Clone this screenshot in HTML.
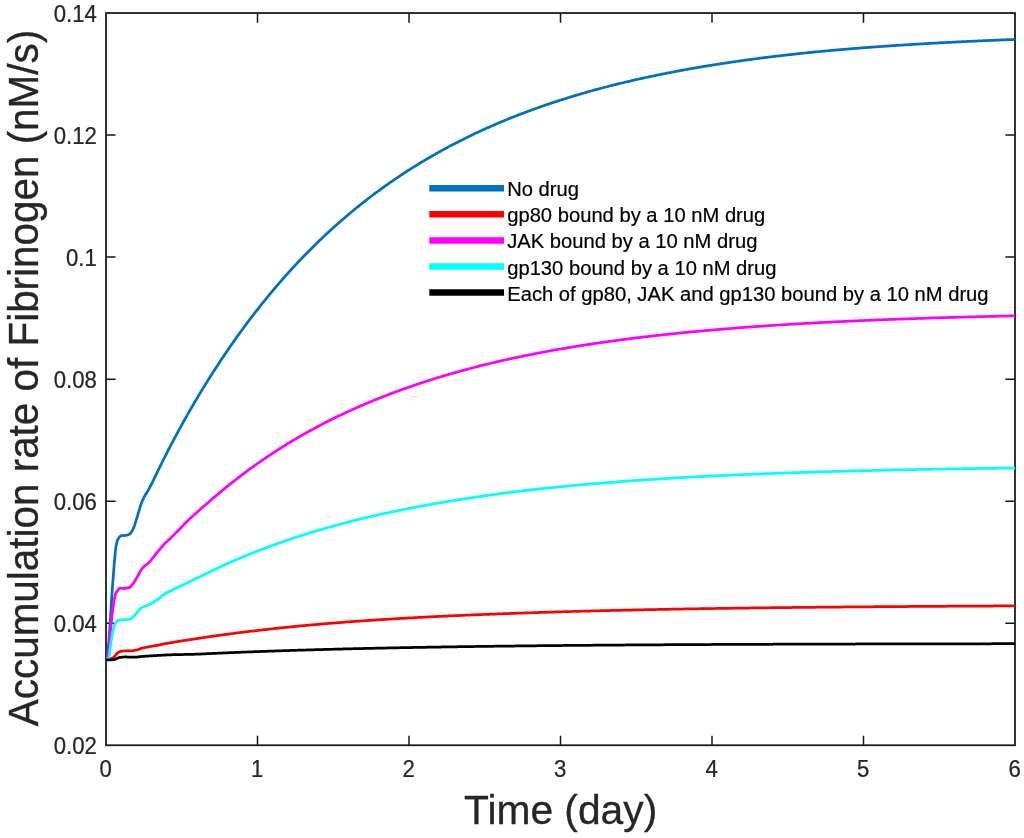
<!DOCTYPE html>
<html><head><meta charset="utf-8"><title>Accumulation rate of Fibrinogen</title>
<style>
html,body{margin:0;padding:0;background:#fff;}
body{width:1024px;height:838px;overflow:hidden;}
svg{display:block;}
text{font-family:"Liberation Sans",Arial,Helvetica,sans-serif;fill:#262626;}
.tk{font-size:23.2px;stroke:#262626;stroke-width:0.25px;}
.lg{font-size:19.95px;fill:#000;stroke:#000;stroke-width:0.2px;}
.lb{font-size:40.43px;stroke:#262626;stroke-width:0.3px;}
.c{fill:none;stroke-width:2.75;stroke-linejoin:round;stroke-linecap:butt;}
.ll{stroke-width:6.5;fill:none;}
</style></head><body>
<svg width="1024" height="838" viewBox="0 0 1024 838">
<rect x="0" y="0" width="1024" height="838" fill="#fff"/>

<path d="M257.50,745.25 v-9.6 M257.50,13.05 v9.6 M409.00,745.25 v-9.6 M409.00,13.05 v9.6 M560.50,745.25 v-9.6 M560.50,13.05 v9.6 M712.00,745.25 v-9.6 M712.00,13.05 v9.6 M863.50,745.25 v-9.6 M863.50,13.05 v9.6 M106.0,623.22 h9.6 M1015.0,623.22 h-9.6 M106.0,501.18 h9.6 M1015.0,501.18 h-9.6 M106.0,379.15 h9.6 M1015.0,379.15 h-9.6 M106.0,257.12 h9.6 M1015.0,257.12 h-9.6 M106.0,135.08 h9.6 M1015.0,135.08 h-9.6" stroke="#151515" stroke-width="1.5" fill="none"/>
<rect x="106.0" y="13.05" width="909.0" height="732.2" fill="none" stroke="#1c1c1c" stroke-width="1.8"/>
<clipPath id="cp"><rect x="106.0" y="13.05" width="909.0" height="732.2"/></clipPath>
<g clip-path="url(#cp)">
<path class="c" stroke="#0072BD" d="M106.00,659.60 L106.50,659.33 L107.00,658.20 L107.50,655.48 L108.00,650.72 L108.50,645.26 L109.00,639.61 L109.50,632.94 L110.00,625.67 L110.50,617.95 L111.00,609.25 L111.50,600.59 L112.00,593.05 L112.50,586.42 L113.00,580.14 L113.50,573.74 L114.00,566.90 L114.50,560.60 L115.00,555.03 L115.50,550.11 L116.00,546.76 L116.50,544.10 L117.00,541.84 L117.50,540.17 L118.00,539.09 L118.50,538.26 L119.00,537.62 L119.50,537.08 L120.00,536.56 L120.50,536.10 L121.00,535.80 L121.50,535.64 L122.00,535.57 L122.50,535.56 L123.00,535.57 L123.50,535.57 L124.00,535.51 L124.50,535.43 L125.00,535.38 L125.50,535.35 L126.00,535.32 L126.50,535.27 L127.00,535.19 L127.50,535.05 L128.00,534.84 L128.50,534.59 L129.00,534.36 L129.50,534.10 L130.00,533.76 L130.50,533.29 L131.00,532.65 L131.50,531.87 L132.00,531.05 L132.50,530.19 L133.00,529.26 L133.50,528.22 L134.00,527.02 L134.50,525.61 L135.00,524.05 L135.50,522.43 L136.00,520.82 L136.50,519.22 L137.00,517.55 L137.50,515.84 L138.00,514.11 L138.50,512.42 L139.00,510.78 L139.50,509.17 L140.00,507.52 L140.50,505.88 L141.00,504.31 L141.50,502.87 L142.00,501.62 L142.50,500.54 L143.00,499.50 L143.50,498.47 L144.00,497.47 L144.50,496.48 L145.00,495.49 L145.50,494.56 L146.00,493.72 L146.50,492.94 L147.00,492.18 L147.50,491.39 L148.00,490.52 L148.50,489.63 L149.00,488.74 L149.50,487.84 L150.00,486.94 L150.50,486.02 L151.00,485.07 L151.50,484.09 L152.00,483.08 L152.50,482.05 L153.00,481.01 L153.50,479.98 L154.00,478.94 L154.50,477.91 L155.00,476.87 L155.50,475.83 L156.00,474.80 L156.50,473.76 L157.00,472.73 L157.50,471.70 L158.00,470.67 L158.50,469.64 L159.00,468.61 L159.50,467.58 L160.00,466.56 L160.50,465.54 L161.00,464.52 L161.50,463.51 L162.00,462.50 L162.50,461.49 L163.00,460.49 L163.50,459.49 L164.00,458.50 L164.50,457.51 L165.00,456.53 L165.50,455.55 L166.00,454.57 L166.50,453.60 L167.00,452.62 L167.50,451.65 L168.00,450.69 L168.50,449.72 L169.00,448.76 L169.50,447.80 L170.00,446.84 L170.50,445.88 L171.00,444.93 L171.50,443.98 L172.00,443.03 L172.50,442.08 L173.00,441.13 L173.50,440.19 L174.00,439.25 L174.50,438.31 L175.00,437.37 L175.50,436.44 L176.00,435.51 L176.50,434.58 L177.00,433.65 L177.50,432.73 L178.00,431.80 L178.50,430.88 L179.00,429.96 L179.50,429.05 L180.00,428.13 L180.50,427.22 L181.00,426.31 L181.50,425.40 L182.00,424.50 L182.50,423.59 L183.00,422.69 L183.50,421.79 L184.00,420.90 L184.50,420.00 L185.00,419.11 L185.50,418.22 L186.00,417.33 L186.50,416.44 L187.00,415.56 L187.50,414.68 L188.00,413.80 L188.50,412.92 L189.00,412.04 L189.50,411.17 L190.00,410.30 L190.50,409.43 L191.00,408.56 L191.50,407.70 L192.00,406.83 L192.50,405.97 L193.00,405.11 L193.50,404.26 L194.00,403.40 L194.50,402.55 L195.00,401.70 L195.50,400.85 L196.00,400.00 L196.50,399.16 L197.00,398.32 L197.50,397.48 L198.00,396.64 L198.50,395.80 L199.00,394.97 L199.50,394.14 L200.00,393.31 L200.50,392.48 L201.00,391.65 L201.50,390.83 L202.00,390.01 L202.50,389.18 L203.00,388.37 L203.50,387.55 L204.00,386.73 L204.50,385.92 L205.00,385.11 L205.50,384.30 L206.00,383.49 L206.50,382.69 L207.00,381.88 L207.50,381.08 L208.00,380.28 L208.50,379.48 L209.00,378.69 L209.50,377.89 L210.00,377.10 L210.50,376.31 L211.00,375.52 L211.50,374.73 L212.00,373.95 L212.50,373.16 L213.00,372.38 L213.50,371.60 L214.00,370.82 L214.50,370.04 L215.00,369.27 L215.50,368.50 L216.00,367.72 L216.50,366.95 L217.00,366.19 L217.50,365.42 L218.00,364.66 L218.50,363.89 L219.00,363.13 L219.50,362.37 L220.00,361.61 L221.00,360.10 L222.00,358.60 L223.00,357.11 L224.00,355.62 L225.00,354.13 L226.00,352.66 L227.00,351.19 L228.00,349.73 L229.00,348.27 L230.00,346.82 L231.00,345.38 L232.00,343.94 L233.00,342.51 L234.00,341.09 L235.00,339.67 L236.00,338.26 L237.00,336.86 L238.00,335.46 L239.00,334.07 L240.00,332.69 L241.00,331.31 L242.00,329.94 L243.00,328.57 L244.00,327.21 L245.00,325.86 L246.00,324.51 L247.00,323.17 L248.00,321.84 L249.00,320.51 L250.00,319.19 L251.00,317.87 L252.00,316.56 L253.00,315.25 L254.00,313.95 L255.00,312.66 L256.00,311.37 L257.00,310.09 L258.00,308.82 L259.00,307.55 L260.00,306.28 L261.00,305.03 L262.00,303.77 L263.00,302.53 L264.00,301.29 L265.00,300.05 L266.00,298.82 L267.00,297.60 L268.00,296.38 L269.00,295.17 L270.00,293.96 L271.00,292.76 L272.00,291.56 L273.00,290.37 L274.00,289.19 L275.00,288.01 L276.00,286.83 L277.00,285.66 L278.00,284.50 L279.00,283.34 L280.00,282.18 L281.00,281.04 L282.00,279.89 L283.00,278.76 L284.00,277.62 L285.00,276.50 L286.00,275.37 L287.00,274.26 L288.00,273.14 L289.00,272.04 L290.00,270.94 L291.00,269.84 L292.00,268.75 L293.00,267.66 L294.00,266.58 L295.00,265.50 L296.00,264.43 L297.00,263.36 L298.00,262.30 L299.00,261.24 L300.00,260.19 L301.00,259.14 L302.00,258.10 L303.00,257.06 L304.00,256.02 L305.00,254.99 L306.00,253.97 L307.00,252.95 L308.00,251.94 L309.00,250.93 L310.00,249.92 L311.00,248.92 L312.00,247.92 L313.00,246.93 L314.00,245.94 L315.00,244.96 L316.00,243.98 L317.00,243.01 L318.00,242.04 L319.00,241.07 L320.00,240.11 L321.00,239.15 L322.00,238.20 L323.00,237.25 L324.00,236.31 L325.00,235.37 L326.00,234.43 L327.00,233.50 L328.00,232.58 L329.00,231.65 L330.00,230.74 L331.00,229.82 L332.00,228.91 L333.00,228.01 L334.00,227.11 L335.00,226.21 L336.00,225.31 L337.00,224.43 L338.00,223.54 L339.00,222.66 L340.00,221.78 L341.00,220.91 L342.00,220.04 L343.00,219.17 L344.00,218.31 L345.00,217.46 L346.00,216.60 L347.00,215.75 L348.00,214.91 L349.00,214.07 L350.00,213.23 L351.00,212.39 L352.00,211.56 L353.00,210.74 L354.00,209.91 L355.00,209.09 L356.00,208.28 L357.00,207.47 L358.00,206.66 L359.00,205.85 L360.00,205.05 L361.00,204.26 L362.00,203.46 L363.00,202.67 L364.00,201.89 L365.00,201.11 L366.00,200.33 L367.00,199.55 L368.00,198.78 L369.00,198.01 L370.00,197.25 L371.00,196.48 L372.00,195.73 L373.00,194.97 L374.00,194.22 L375.00,193.47 L376.00,192.73 L377.00,191.99 L378.00,191.25 L379.00,190.52 L380.00,189.79 L381.00,189.06 L382.00,188.33 L383.00,187.61 L384.00,186.90 L385.00,186.18 L386.00,185.47 L387.00,184.76 L388.00,184.06 L389.00,183.36 L390.00,182.66 L391.00,181.96 L392.00,181.27 L393.00,180.58 L394.00,179.90 L395.00,179.21 L396.00,178.54 L397.00,177.86 L398.00,177.19 L399.00,176.52 L400.00,175.85 L401.00,175.18 L402.00,174.52 L403.00,173.87 L404.00,173.21 L405.00,172.56 L406.00,171.91 L407.00,171.26 L408.00,170.62 L409.00,169.98 L410.00,169.34 L411.00,168.71 L412.00,168.08 L413.00,167.45 L414.00,166.82 L415.00,166.20 L416.00,165.58 L417.00,164.96 L418.00,164.35 L419.00,163.74 L420.00,163.13 L421.00,162.52 L422.00,161.92 L423.00,161.32 L424.00,160.72 L425.00,160.12 L426.00,159.53 L427.00,158.94 L428.00,158.36 L429.00,157.77 L430.00,157.19 L431.00,156.61 L432.00,156.03 L433.00,155.46 L434.00,154.89 L435.00,154.32 L436.00,153.75 L437.00,153.19 L438.00,152.63 L439.00,152.07 L440.00,151.52 L441.00,150.96 L442.00,150.41 L443.00,149.86 L444.00,149.32 L445.00,148.78 L446.00,148.23 L447.00,147.70 L448.00,147.16 L449.00,146.63 L450.00,146.10 L451.00,145.57 L452.00,145.04 L453.00,144.52 L454.00,144.00 L455.00,143.48 L456.00,142.96 L457.00,142.45 L458.00,141.94 L459.00,141.43 L460.00,140.92 L461.00,140.41 L462.00,139.91 L463.00,139.41 L464.00,138.91 L465.00,138.42 L466.00,137.92 L467.00,137.43 L468.00,136.94 L469.00,136.46 L470.00,135.97 L471.00,135.49 L472.00,135.01 L473.00,134.53 L474.00,134.05 L475.00,133.58 L476.00,133.11 L477.00,132.64 L478.00,132.17 L479.00,131.71 L480.00,131.24 L481.00,130.78 L482.00,130.32 L483.00,129.87 L484.00,129.41 L485.00,128.96 L486.00,128.51 L487.00,128.06 L488.00,127.62 L489.00,127.17 L490.00,126.73 L491.00,126.29 L492.00,125.85 L493.00,125.41 L494.00,124.98 L495.00,124.55 L496.00,124.12 L497.00,123.69 L498.00,123.26 L499.00,122.84 L500.00,122.41 L501.00,121.99 L502.00,121.58 L503.00,121.16 L504.00,120.74 L505.00,120.33 L506.00,119.92 L507.00,119.51 L508.00,119.10 L509.00,118.70 L510.00,118.29 L511.00,117.89 L512.00,117.49 L513.00,117.09 L514.00,116.70 L515.00,116.30 L516.00,115.91 L517.00,115.52 L518.00,115.13 L519.00,114.74 L520.00,114.36 L521.00,113.97 L522.00,113.59 L523.00,113.21 L524.00,112.83 L525.00,112.45 L526.00,112.08 L527.00,111.70 L528.00,111.33 L529.00,110.96 L530.00,110.59 L531.00,110.23 L532.00,109.86 L533.00,109.50 L534.00,109.14 L535.00,108.78 L536.00,108.42 L537.00,108.06 L538.00,107.70 L539.00,107.35 L540.00,107.00 L541.00,106.65 L542.00,106.30 L543.00,105.95 L544.00,105.61 L545.00,105.26 L546.00,104.92 L547.00,104.58 L548.00,104.24 L549.00,103.90 L550.00,103.57 L551.00,103.23 L552.00,102.90 L553.00,102.57 L554.00,102.23 L555.00,101.91 L556.00,101.58 L557.00,101.25 L558.00,100.93 L559.00,100.61 L560.00,100.28 L561.00,99.96 L562.00,99.65 L563.00,99.33 L564.00,99.01 L565.00,98.70 L566.00,98.39 L567.00,98.08 L568.00,97.77 L569.00,97.46 L570.00,97.15 L571.00,96.84 L572.00,96.54 L573.00,96.24 L574.00,95.94 L575.00,95.64 L576.00,95.34 L577.00,95.04 L578.00,94.74 L579.00,94.45 L580.00,94.16 L581.00,93.86 L582.00,93.57 L583.00,93.28 L584.00,93.00 L585.00,92.71 L586.00,92.42 L587.00,92.14 L588.00,91.86 L589.00,91.57 L590.00,91.29 L591.00,91.02 L592.00,90.74 L593.00,90.46 L594.00,90.19 L595.00,89.91 L596.00,89.64 L597.00,89.37 L598.00,89.10 L599.00,88.83 L600.00,88.56 L601.00,88.29 L602.00,88.03 L603.00,87.77 L604.00,87.50 L605.00,87.24 L606.00,86.98 L607.00,86.72 L608.00,86.46 L609.00,86.21 L610.00,85.95 L611.00,85.70 L612.00,85.44 L613.00,85.19 L614.00,84.94 L615.00,84.69 L616.00,84.44 L617.00,84.19 L618.00,83.95 L619.00,83.70 L620.00,83.46 L621.00,83.21 L622.00,82.97 L623.00,82.73 L624.00,82.49 L625.00,82.25 L626.00,82.01 L627.00,81.78 L628.00,81.54 L629.00,81.31 L630.00,81.07 L631.00,80.84 L632.00,80.61 L633.00,80.38 L634.00,80.15 L635.00,79.92 L636.00,79.69 L637.00,79.47 L638.00,79.24 L639.00,79.02 L640.00,78.79 L641.00,78.57 L642.00,78.35 L643.00,78.13 L644.00,77.91 L645.00,77.69 L646.00,77.48 L647.00,77.26 L648.00,77.05 L649.00,76.83 L650.00,76.62 L651.00,76.41 L652.00,76.20 L653.00,75.99 L654.00,75.78 L655.00,75.57 L656.00,75.36 L657.00,75.15 L658.00,74.95 L659.00,74.74 L660.00,74.54 L661.00,74.34 L662.00,74.14 L663.00,73.94 L664.00,73.74 L665.00,73.54 L666.00,73.34 L667.00,73.14 L668.00,72.94 L669.00,72.75 L670.00,72.55 L671.00,72.36 L672.00,72.17 L673.00,71.98 L674.00,71.79 L675.00,71.60 L676.00,71.41 L677.00,71.22 L678.00,71.03 L679.00,70.84 L680.00,70.66 L681.00,70.47 L682.00,70.29 L683.00,70.10 L684.00,69.92 L685.00,69.74 L686.00,69.56 L687.00,69.38 L688.00,69.20 L689.00,69.02 L690.00,68.84 L691.00,68.67 L692.00,68.49 L693.00,68.32 L694.00,68.14 L695.00,67.97 L696.00,67.80 L697.00,67.62 L698.00,67.45 L699.00,67.28 L700.00,67.11 L701.00,66.94 L702.00,66.78 L703.00,66.61 L704.00,66.44 L705.00,66.28 L706.00,66.11 L707.00,65.95 L708.00,65.78 L709.00,65.62 L710.00,65.46 L711.00,65.30 L712.00,65.14 L713.00,64.98 L714.00,64.82 L715.00,64.66 L716.00,64.50 L717.00,64.34 L718.00,64.19 L719.00,64.03 L720.00,63.88 L721.00,63.72 L722.00,63.57 L723.00,63.42 L724.00,63.27 L725.00,63.11 L726.00,62.96 L727.00,62.81 L728.00,62.66 L729.00,62.52 L730.00,62.37 L731.00,62.22 L732.00,62.07 L733.00,61.93 L734.00,61.78 L735.00,61.64 L736.00,61.49 L737.00,61.35 L738.00,61.21 L739.00,61.07 L740.00,60.93 L741.00,60.78 L742.00,60.64 L743.00,60.51 L744.00,60.37 L745.00,60.23 L746.00,60.09 L747.00,59.95 L748.00,59.82 L749.00,59.68 L750.00,59.55 L751.00,59.41 L752.00,59.28 L753.00,59.15 L754.00,59.01 L755.00,58.88 L756.00,58.75 L757.00,58.62 L758.00,58.49 L759.00,58.36 L760.00,58.23 L761.00,58.10 L762.00,57.97 L763.00,57.85 L764.00,57.72 L765.00,57.59 L766.00,57.47 L767.00,57.34 L768.00,57.22 L769.00,57.10 L770.00,56.97 L771.00,56.85 L772.00,56.73 L773.00,56.61 L774.00,56.48 L775.00,56.36 L776.00,56.24 L777.00,56.12 L778.00,56.01 L779.00,55.89 L780.00,55.77 L781.00,55.65 L782.00,55.54 L783.00,55.42 L784.00,55.30 L785.00,55.19 L786.00,55.07 L787.00,54.96 L788.00,54.85 L789.00,54.73 L790.00,54.62 L791.00,54.51 L792.00,54.40 L793.00,54.29 L794.00,54.18 L795.00,54.07 L796.00,53.96 L797.00,53.85 L798.00,53.74 L799.00,53.63 L800.00,53.52 L801.00,53.42 L802.00,53.31 L803.00,53.21 L804.00,53.10 L805.00,53.00 L806.00,52.89 L807.00,52.79 L808.00,52.69 L809.00,52.58 L810.00,52.48 L811.00,52.38 L812.00,52.28 L813.00,52.18 L814.00,52.08 L815.00,51.98 L816.00,51.88 L817.00,51.79 L818.00,51.69 L819.00,51.59 L820.00,51.50 L821.00,51.40 L822.00,51.31 L823.00,51.21 L824.00,51.12 L825.00,51.02 L826.00,50.93 L827.00,50.84 L828.00,50.75 L829.00,50.66 L830.00,50.57 L831.00,50.48 L832.00,50.39 L833.00,50.30 L834.00,50.21 L835.00,50.12 L836.00,50.03 L837.00,49.94 L838.00,49.86 L839.00,49.77 L840.00,49.68 L841.00,49.60 L842.00,49.51 L843.00,49.43 L844.00,49.34 L845.00,49.26 L846.00,49.18 L847.00,49.09 L848.00,49.01 L849.00,48.93 L850.00,48.85 L851.00,48.76 L852.00,48.68 L853.00,48.60 L854.00,48.52 L855.00,48.44 L856.00,48.36 L857.00,48.29 L858.00,48.21 L859.00,48.13 L860.00,48.05 L861.00,47.97 L862.00,47.90 L863.00,47.82 L864.00,47.74 L865.00,47.67 L866.00,47.59 L867.00,47.52 L868.00,47.44 L869.00,47.37 L870.00,47.29 L871.00,47.22 L872.00,47.15 L873.00,47.07 L874.00,47.00 L875.00,46.93 L876.00,46.86 L877.00,46.78 L878.00,46.71 L879.00,46.64 L880.00,46.57 L881.00,46.50 L882.00,46.43 L883.00,46.36 L884.00,46.29 L885.00,46.22 L886.00,46.15 L887.00,46.08 L888.00,46.02 L889.00,45.95 L890.00,45.88 L891.00,45.81 L892.00,45.74 L893.00,45.68 L894.00,45.61 L895.00,45.54 L896.00,45.48 L897.00,45.41 L898.00,45.35 L899.00,45.28 L900.00,45.22 L901.00,45.15 L902.00,45.09 L903.00,45.02 L904.00,44.96 L905.00,44.89 L906.00,44.83 L907.00,44.77 L908.00,44.70 L909.00,44.64 L910.00,44.58 L911.00,44.52 L912.00,44.45 L913.00,44.39 L914.00,44.33 L915.00,44.27 L916.00,44.21 L917.00,44.15 L918.00,44.09 L919.00,44.03 L920.00,43.97 L921.00,43.91 L922.00,43.85 L923.00,43.79 L924.00,43.74 L925.00,43.68 L926.00,43.62 L927.00,43.56 L928.00,43.51 L929.00,43.45 L930.00,43.39 L931.00,43.34 L932.00,43.28 L933.00,43.22 L934.00,43.17 L935.00,43.11 L936.00,43.06 L937.00,43.00 L938.00,42.95 L939.00,42.89 L940.00,42.84 L941.00,42.79 L942.00,42.73 L943.00,42.68 L944.00,42.63 L945.00,42.57 L946.00,42.52 L947.00,42.47 L948.00,42.42 L949.00,42.36 L950.00,42.31 L951.00,42.26 L952.00,42.21 L953.00,42.16 L954.00,42.11 L955.00,42.06 L956.00,42.01 L957.00,41.96 L958.00,41.91 L959.00,41.86 L960.00,41.81 L961.00,41.76 L962.00,41.71 L963.00,41.66 L964.00,41.62 L965.00,41.57 L966.00,41.52 L967.00,41.47 L968.00,41.42 L969.00,41.38 L970.00,41.33 L971.00,41.28 L972.00,41.24 L973.00,41.19 L974.00,41.14 L975.00,41.10 L976.00,41.05 L977.00,41.01 L978.00,40.96 L979.00,40.92 L980.00,40.87 L981.00,40.83 L982.00,40.78 L983.00,40.74 L984.00,40.70 L985.00,40.65 L986.00,40.61 L987.00,40.57 L988.00,40.52 L989.00,40.48 L990.00,40.44 L991.00,40.39 L992.00,40.35 L993.00,40.31 L994.00,40.27 L995.00,40.23 L996.00,40.18 L997.00,40.14 L998.00,40.10 L999.00,40.06 L1000.00,40.02 L1001.00,39.98 L1002.00,39.94 L1003.00,39.90 L1004.00,39.86 L1005.00,39.82 L1006.00,39.78 L1007.00,39.74 L1008.00,39.70 L1009.00,39.66 L1010.00,39.62 L1011.00,39.58 L1012.00,39.55 L1013.00,39.51 L1014.00,39.47 L1015.00,39.43 L1016.00,39.39"/>
<path class="c" stroke="#FF0000" d="M106.00,659.60 L106.50,659.51 L107.00,659.41 L107.50,659.31 L108.00,659.20 L108.50,659.10 L109.00,658.98 L109.50,658.87 L110.00,658.76 L110.50,658.65 L111.00,658.52 L111.50,658.35 L112.00,658.14 L112.50,657.89 L113.00,657.61 L113.50,657.31 L114.00,657.00 L114.50,656.58 L115.00,655.99 L115.50,655.31 L116.00,654.61 L116.50,653.95 L117.00,653.42 L117.50,653.03 L118.00,652.66 L118.50,652.31 L119.00,651.99 L119.50,651.72 L120.00,651.51 L120.50,651.38 L121.00,651.28 L121.50,651.21 L122.00,651.14 L122.50,651.09 L123.00,651.05 L123.50,651.02 L124.00,650.99 L124.50,650.97 L125.00,650.94 L125.50,650.92 L126.00,650.89 L126.50,650.87 L127.00,650.87 L127.50,650.88 L128.00,650.90 L128.50,650.92 L129.00,650.94 L129.50,650.95 L130.00,650.96 L130.50,650.96 L131.00,650.94 L131.50,650.90 L132.00,650.83 L132.50,650.75 L133.00,650.66 L133.50,650.57 L134.00,650.48 L134.50,650.39 L135.00,650.29 L135.50,650.20 L136.00,650.10 L136.50,650.00 L137.00,649.89 L137.50,649.75 L138.00,649.59 L138.50,649.42 L139.00,649.23 L139.50,649.04 L140.00,648.85 L140.50,648.66 L141.00,648.48 L141.50,648.30 L142.00,648.15 L142.50,648.01 L143.00,647.90 L143.50,647.80 L144.00,647.71 L144.50,647.61 L145.00,647.51 L145.50,647.42 L146.00,647.32 L146.50,647.23 L147.00,647.14 L147.50,647.05 L148.00,646.95 L148.50,646.86 L149.00,646.77 L149.50,646.68 L150.00,646.59 L150.50,646.50 L151.00,646.41 L151.50,646.32 L152.00,646.23 L152.50,646.14 L153.00,646.06 L153.50,645.97 L154.00,645.89 L154.50,645.80 L155.00,645.72 L155.50,645.64 L156.00,645.55 L156.50,645.47 L157.00,645.38 L157.50,645.29 L158.00,645.20 L158.50,645.10 L159.00,645.00 L159.50,644.89 L160.00,644.78 L160.50,644.66 L161.00,644.55 L161.50,644.43 L162.00,644.31 L162.50,644.20 L163.00,644.09 L163.50,643.99 L164.00,643.90 L164.50,643.81 L165.00,643.72 L165.50,643.63 L166.00,643.55 L166.50,643.46 L167.00,643.37 L167.50,643.28 L168.00,643.20 L168.50,643.11 L169.00,643.03 L169.50,642.94 L170.00,642.85 L170.50,642.77 L171.00,642.69 L171.50,642.60 L172.00,642.52 L172.50,642.43 L173.00,642.35 L173.50,642.27 L174.00,642.18 L174.50,642.10 L175.00,642.02 L175.50,641.94 L176.00,641.85 L176.50,641.77 L177.00,641.69 L177.50,641.61 L178.00,641.53 L178.50,641.45 L179.00,641.37 L179.50,641.29 L180.00,641.21 L180.50,641.13 L181.00,641.05 L181.50,640.97 L182.00,640.89 L182.50,640.81 L183.00,640.73 L183.50,640.65 L184.00,640.58 L184.50,640.50 L185.00,640.42 L185.50,640.34 L186.00,640.26 L186.50,640.19 L187.00,640.11 L187.50,640.03 L188.00,639.95 L188.50,639.88 L189.00,639.80 L189.50,639.72 L190.00,639.65 L190.50,639.57 L191.00,639.49 L191.50,639.42 L192.00,639.34 L192.50,639.26 L193.00,639.19 L193.50,639.11 L194.00,639.04 L194.50,638.96 L195.00,638.88 L195.50,638.81 L196.00,638.73 L196.50,638.66 L197.00,638.58 L197.50,638.50 L198.00,638.43 L198.50,638.35 L199.00,638.28 L199.50,638.20 L200.00,638.13 L200.50,638.05 L201.00,637.97 L201.50,637.90 L202.00,637.82 L202.50,637.75 L203.00,637.67 L203.50,637.60 L204.00,637.53 L204.50,637.45 L205.00,637.38 L205.50,637.30 L206.00,637.23 L206.50,637.16 L207.00,637.08 L207.50,637.01 L208.00,636.94 L208.50,636.86 L209.00,636.79 L209.50,636.72 L210.00,636.65 L210.50,636.57 L211.00,636.50 L211.50,636.43 L212.00,636.36 L212.50,636.29 L213.00,636.22 L213.50,636.15 L214.00,636.07 L214.50,636.00 L215.00,635.93 L215.50,635.86 L216.00,635.79 L216.50,635.72 L217.00,635.65 L217.50,635.58 L218.00,635.51 L218.50,635.44 L219.00,635.37 L219.50,635.30 L220.00,635.23 L221.00,635.10 L222.00,634.96 L223.00,634.82 L224.00,634.69 L225.00,634.55 L226.00,634.42 L227.00,634.28 L228.00,634.15 L229.00,634.02 L230.00,633.88 L231.00,633.75 L232.00,633.62 L233.00,633.49 L234.00,633.36 L235.00,633.23 L236.00,633.10 L237.00,632.98 L238.00,632.85 L239.00,632.72 L240.00,632.60 L241.00,632.47 L242.00,632.35 L243.00,632.22 L244.00,632.10 L245.00,631.97 L246.00,631.85 L247.00,631.73 L248.00,631.61 L249.00,631.49 L250.00,631.36 L251.00,631.24 L252.00,631.13 L253.00,631.01 L254.00,630.89 L255.00,630.77 L256.00,630.65 L257.00,630.54 L258.00,630.42 L259.00,630.30 L260.00,630.19 L261.00,630.07 L262.00,629.96 L263.00,629.85 L264.00,629.73 L265.00,629.62 L266.00,629.51 L267.00,629.40 L268.00,629.29 L269.00,629.18 L270.00,629.07 L271.00,628.96 L272.00,628.85 L273.00,628.74 L274.00,628.63 L275.00,628.52 L276.00,628.42 L277.00,628.31 L278.00,628.20 L279.00,628.10 L280.00,627.99 L281.00,627.89 L282.00,627.78 L283.00,627.68 L284.00,627.58 L285.00,627.47 L286.00,627.37 L287.00,627.27 L288.00,627.17 L289.00,627.07 L290.00,626.97 L291.00,626.87 L292.00,626.77 L293.00,626.67 L294.00,626.57 L295.00,626.47 L296.00,626.37 L297.00,626.28 L298.00,626.18 L299.00,626.08 L300.00,625.99 L301.00,625.89 L302.00,625.80 L303.00,625.70 L304.00,625.61 L305.00,625.52 L306.00,625.42 L307.00,625.33 L308.00,625.24 L309.00,625.15 L310.00,625.06 L311.00,624.96 L312.00,624.87 L313.00,624.78 L314.00,624.70 L315.00,624.61 L316.00,624.52 L317.00,624.43 L318.00,624.34 L319.00,624.26 L320.00,624.17 L321.00,624.08 L322.00,624.00 L323.00,623.91 L324.00,623.83 L325.00,623.74 L326.00,623.66 L327.00,623.57 L328.00,623.49 L329.00,623.41 L330.00,623.33 L331.00,623.24 L332.00,623.16 L333.00,623.08 L334.00,623.00 L335.00,622.92 L336.00,622.84 L337.00,622.76 L338.00,622.68 L339.00,622.60 L340.00,622.53 L341.00,622.45 L342.00,622.37 L343.00,622.29 L344.00,622.22 L345.00,622.14 L346.00,622.06 L347.00,621.99 L348.00,621.91 L349.00,621.84 L350.00,621.76 L351.00,621.69 L352.00,621.62 L353.00,621.54 L354.00,621.47 L355.00,621.40 L356.00,621.33 L357.00,621.25 L358.00,621.18 L359.00,621.11 L360.00,621.04 L361.00,620.97 L362.00,620.90 L363.00,620.83 L364.00,620.76 L365.00,620.69 L366.00,620.62 L367.00,620.56 L368.00,620.49 L369.00,620.42 L370.00,620.35 L371.00,620.29 L372.00,620.22 L373.00,620.15 L374.00,620.09 L375.00,620.02 L376.00,619.96 L377.00,619.89 L378.00,619.83 L379.00,619.76 L380.00,619.70 L381.00,619.64 L382.00,619.57 L383.00,619.51 L384.00,619.45 L385.00,619.38 L386.00,619.32 L387.00,619.26 L388.00,619.20 L389.00,619.14 L390.00,619.08 L391.00,619.02 L392.00,618.96 L393.00,618.90 L394.00,618.84 L395.00,618.78 L396.00,618.72 L397.00,618.66 L398.00,618.60 L399.00,618.54 L400.00,618.48 L401.00,618.43 L402.00,618.37 L403.00,618.31 L404.00,618.26 L405.00,618.20 L406.00,618.14 L407.00,618.09 L408.00,618.03 L409.00,617.98 L410.00,617.92 L411.00,617.86 L412.00,617.81 L413.00,617.76 L414.00,617.70 L415.00,617.65 L416.00,617.59 L417.00,617.54 L418.00,617.49 L419.00,617.43 L420.00,617.38 L421.00,617.33 L422.00,617.28 L423.00,617.23 L424.00,617.17 L425.00,617.12 L426.00,617.07 L427.00,617.02 L428.00,616.97 L429.00,616.92 L430.00,616.87 L431.00,616.82 L432.00,616.77 L433.00,616.72 L434.00,616.67 L435.00,616.62 L436.00,616.57 L437.00,616.52 L438.00,616.48 L439.00,616.43 L440.00,616.38 L441.00,616.33 L442.00,616.28 L443.00,616.24 L444.00,616.19 L445.00,616.14 L446.00,616.10 L447.00,616.05 L448.00,616.00 L449.00,615.96 L450.00,615.91 L451.00,615.87 L452.00,615.82 L453.00,615.77 L454.00,615.73 L455.00,615.68 L456.00,615.64 L457.00,615.60 L458.00,615.55 L459.00,615.51 L460.00,615.46 L461.00,615.42 L462.00,615.38 L463.00,615.33 L464.00,615.29 L465.00,615.25 L466.00,615.20 L467.00,615.16 L468.00,615.12 L469.00,615.08 L470.00,615.03 L471.00,614.99 L472.00,614.95 L473.00,614.91 L474.00,614.87 L475.00,614.83 L476.00,614.79 L477.00,614.74 L478.00,614.70 L479.00,614.66 L480.00,614.62 L481.00,614.58 L482.00,614.54 L483.00,614.50 L484.00,614.46 L485.00,614.42 L486.00,614.38 L487.00,614.34 L488.00,614.31 L489.00,614.27 L490.00,614.23 L491.00,614.19 L492.00,614.15 L493.00,614.11 L494.00,614.07 L495.00,614.04 L496.00,614.00 L497.00,613.96 L498.00,613.92 L499.00,613.88 L500.00,613.85 L501.00,613.81 L502.00,613.77 L503.00,613.74 L504.00,613.70 L505.00,613.66 L506.00,613.62 L507.00,613.59 L508.00,613.55 L509.00,613.52 L510.00,613.48 L511.00,613.44 L512.00,613.41 L513.00,613.37 L514.00,613.34 L515.00,613.30 L516.00,613.27 L517.00,613.23 L518.00,613.19 L519.00,613.16 L520.00,613.12 L521.00,613.09 L522.00,613.05 L523.00,613.02 L524.00,612.99 L525.00,612.95 L526.00,612.92 L527.00,612.88 L528.00,612.85 L529.00,612.82 L530.00,612.78 L531.00,612.75 L532.00,612.72 L533.00,612.68 L534.00,612.65 L535.00,612.62 L536.00,612.58 L537.00,612.55 L538.00,612.52 L539.00,612.49 L540.00,612.46 L541.00,612.42 L542.00,612.39 L543.00,612.36 L544.00,612.33 L545.00,612.30 L546.00,612.27 L547.00,612.23 L548.00,612.20 L549.00,612.17 L550.00,612.14 L551.00,612.11 L552.00,612.08 L553.00,612.05 L554.00,612.02 L555.00,611.99 L556.00,611.96 L557.00,611.93 L558.00,611.90 L559.00,611.87 L560.00,611.84 L561.00,611.81 L562.00,611.78 L563.00,611.75 L564.00,611.72 L565.00,611.70 L566.00,611.67 L567.00,611.64 L568.00,611.61 L569.00,611.58 L570.00,611.55 L571.00,611.52 L572.00,611.50 L573.00,611.47 L574.00,611.44 L575.00,611.41 L576.00,611.39 L577.00,611.36 L578.00,611.33 L579.00,611.30 L580.00,611.28 L581.00,611.25 L582.00,611.22 L583.00,611.20 L584.00,611.17 L585.00,611.14 L586.00,611.12 L587.00,611.09 L588.00,611.06 L589.00,611.04 L590.00,611.01 L591.00,610.99 L592.00,610.96 L593.00,610.93 L594.00,610.91 L595.00,610.88 L596.00,610.86 L597.00,610.83 L598.00,610.81 L599.00,610.78 L600.00,610.76 L601.00,610.73 L602.00,610.71 L603.00,610.68 L604.00,610.66 L605.00,610.64 L606.00,610.61 L607.00,610.59 L608.00,610.56 L609.00,610.54 L610.00,610.52 L611.00,610.49 L612.00,610.47 L613.00,610.44 L614.00,610.42 L615.00,610.40 L616.00,610.37 L617.00,610.35 L618.00,610.33 L619.00,610.31 L620.00,610.28 L621.00,610.26 L622.00,610.24 L623.00,610.21 L624.00,610.19 L625.00,610.17 L626.00,610.15 L627.00,610.13 L628.00,610.10 L629.00,610.08 L630.00,610.06 L631.00,610.04 L632.00,610.02 L633.00,609.99 L634.00,609.97 L635.00,609.95 L636.00,609.93 L637.00,609.91 L638.00,609.89 L639.00,609.87 L640.00,609.85 L641.00,609.82 L642.00,609.80 L643.00,609.78 L644.00,609.76 L645.00,609.74 L646.00,609.72 L647.00,609.70 L648.00,609.68 L649.00,609.66 L650.00,609.64 L651.00,609.62 L652.00,609.60 L653.00,609.58 L654.00,609.56 L655.00,609.54 L656.00,609.52 L657.00,609.50 L658.00,609.48 L659.00,609.46 L660.00,609.44 L661.00,609.42 L662.00,609.40 L663.00,609.39 L664.00,609.37 L665.00,609.35 L666.00,609.33 L667.00,609.31 L668.00,609.29 L669.00,609.27 L670.00,609.25 L671.00,609.24 L672.00,609.22 L673.00,609.20 L674.00,609.18 L675.00,609.16 L676.00,609.15 L677.00,609.13 L678.00,609.11 L679.00,609.09 L680.00,609.07 L681.00,609.06 L682.00,609.04 L683.00,609.02 L684.00,609.00 L685.00,608.99 L686.00,608.97 L687.00,608.95 L688.00,608.93 L689.00,608.92 L690.00,608.90 L691.00,608.88 L692.00,608.87 L693.00,608.85 L694.00,608.83 L695.00,608.82 L696.00,608.80 L697.00,608.78 L698.00,608.77 L699.00,608.75 L700.00,608.73 L701.00,608.72 L702.00,608.70 L703.00,608.69 L704.00,608.67 L705.00,608.65 L706.00,608.64 L707.00,608.62 L708.00,608.61 L709.00,608.59 L710.00,608.58 L711.00,608.56 L712.00,608.54 L713.00,608.53 L714.00,608.51 L715.00,608.50 L716.00,608.48 L717.00,608.47 L718.00,608.45 L719.00,608.44 L720.00,608.42 L721.00,608.41 L722.00,608.39 L723.00,608.38 L724.00,608.36 L725.00,608.35 L726.00,608.33 L727.00,608.32 L728.00,608.31 L729.00,608.29 L730.00,608.28 L731.00,608.26 L732.00,608.25 L733.00,608.23 L734.00,608.22 L735.00,608.21 L736.00,608.19 L737.00,608.18 L738.00,608.16 L739.00,608.15 L740.00,608.14 L741.00,608.12 L742.00,608.11 L743.00,608.10 L744.00,608.08 L745.00,608.07 L746.00,608.06 L747.00,608.04 L748.00,608.03 L749.00,608.02 L750.00,608.00 L751.00,607.99 L752.00,607.98 L753.00,607.96 L754.00,607.95 L755.00,607.94 L756.00,607.92 L757.00,607.91 L758.00,607.90 L759.00,607.89 L760.00,607.87 L761.00,607.86 L762.00,607.85 L763.00,607.84 L764.00,607.82 L765.00,607.81 L766.00,607.80 L767.00,607.79 L768.00,607.78 L769.00,607.76 L770.00,607.75 L771.00,607.74 L772.00,607.73 L773.00,607.72 L774.00,607.70 L775.00,607.69 L776.00,607.68 L777.00,607.67 L778.00,607.66 L779.00,607.65 L780.00,607.63 L781.00,607.62 L782.00,607.61 L783.00,607.60 L784.00,607.59 L785.00,607.58 L786.00,607.57 L787.00,607.55 L788.00,607.54 L789.00,607.53 L790.00,607.52 L791.00,607.51 L792.00,607.50 L793.00,607.49 L794.00,607.48 L795.00,607.47 L796.00,607.46 L797.00,607.45 L798.00,607.44 L799.00,607.42 L800.00,607.41 L801.00,607.40 L802.00,607.39 L803.00,607.38 L804.00,607.37 L805.00,607.36 L806.00,607.35 L807.00,607.34 L808.00,607.33 L809.00,607.32 L810.00,607.31 L811.00,607.30 L812.00,607.29 L813.00,607.28 L814.00,607.27 L815.00,607.26 L816.00,607.25 L817.00,607.24 L818.00,607.23 L819.00,607.22 L820.00,607.21 L821.00,607.20 L822.00,607.19 L823.00,607.18 L824.00,607.17 L825.00,607.16 L826.00,607.16 L827.00,607.15 L828.00,607.14 L829.00,607.13 L830.00,607.12 L831.00,607.11 L832.00,607.10 L833.00,607.09 L834.00,607.08 L835.00,607.07 L836.00,607.06 L837.00,607.05 L838.00,607.04 L839.00,607.04 L840.00,607.03 L841.00,607.02 L842.00,607.01 L843.00,607.00 L844.00,606.99 L845.00,606.98 L846.00,606.97 L847.00,606.97 L848.00,606.96 L849.00,606.95 L850.00,606.94 L851.00,606.93 L852.00,606.92 L853.00,606.91 L854.00,606.91 L855.00,606.90 L856.00,606.89 L857.00,606.88 L858.00,606.87 L859.00,606.86 L860.00,606.86 L861.00,606.85 L862.00,606.84 L863.00,606.83 L864.00,606.82 L865.00,606.81 L866.00,606.81 L867.00,606.80 L868.00,606.79 L869.00,606.78 L870.00,606.77 L871.00,606.77 L872.00,606.76 L873.00,606.75 L874.00,606.74 L875.00,606.74 L876.00,606.73 L877.00,606.72 L878.00,606.71 L879.00,606.70 L880.00,606.70 L881.00,606.69 L882.00,606.68 L883.00,606.67 L884.00,606.67 L885.00,606.66 L886.00,606.65 L887.00,606.64 L888.00,606.64 L889.00,606.63 L890.00,606.62 L891.00,606.62 L892.00,606.61 L893.00,606.60 L894.00,606.59 L895.00,606.59 L896.00,606.58 L897.00,606.57 L898.00,606.56 L899.00,606.56 L900.00,606.55 L901.00,606.54 L902.00,606.54 L903.00,606.53 L904.00,606.52 L905.00,606.52 L906.00,606.51 L907.00,606.50 L908.00,606.50 L909.00,606.49 L910.00,606.48 L911.00,606.47 L912.00,606.47 L913.00,606.46 L914.00,606.45 L915.00,606.45 L916.00,606.44 L917.00,606.43 L918.00,606.43 L919.00,606.42 L920.00,606.41 L921.00,606.41 L922.00,606.40 L923.00,606.40 L924.00,606.39 L925.00,606.38 L926.00,606.38 L927.00,606.37 L928.00,606.36 L929.00,606.36 L930.00,606.35 L931.00,606.34 L932.00,606.34 L933.00,606.33 L934.00,606.33 L935.00,606.32 L936.00,606.31 L937.00,606.31 L938.00,606.30 L939.00,606.30 L940.00,606.29 L941.00,606.28 L942.00,606.28 L943.00,606.27 L944.00,606.27 L945.00,606.26 L946.00,606.25 L947.00,606.25 L948.00,606.24 L949.00,606.24 L950.00,606.23 L951.00,606.22 L952.00,606.22 L953.00,606.21 L954.00,606.21 L955.00,606.20 L956.00,606.20 L957.00,606.19 L958.00,606.18 L959.00,606.18 L960.00,606.17 L961.00,606.17 L962.00,606.16 L963.00,606.16 L964.00,606.15 L965.00,606.14 L966.00,606.14 L967.00,606.13 L968.00,606.13 L969.00,606.12 L970.00,606.12 L971.00,606.11 L972.00,606.11 L973.00,606.10 L974.00,606.10 L975.00,606.09 L976.00,606.08 L977.00,606.08 L978.00,606.07 L979.00,606.07 L980.00,606.06 L981.00,606.06 L982.00,606.05 L983.00,606.05 L984.00,606.04 L985.00,606.04 L986.00,606.03 L987.00,606.03 L988.00,606.02 L989.00,606.02 L990.00,606.01 L991.00,606.01 L992.00,606.00 L993.00,606.00 L994.00,605.99 L995.00,605.99 L996.00,605.98 L997.00,605.98 L998.00,605.97 L999.00,605.97 L1000.00,605.96 L1001.00,605.96 L1002.00,605.95 L1003.00,605.95 L1004.00,605.94 L1005.00,605.94 L1006.00,605.93 L1007.00,605.93 L1008.00,605.92 L1009.00,605.92 L1010.00,605.91 L1011.00,605.91 L1012.00,605.91 L1013.00,605.90 L1014.00,605.90 L1015.00,605.89 L1016.00,605.89"/>
<path class="c" stroke="#FF00FF" d="M106.00,659.60 L106.50,659.33 L107.00,658.79 L107.50,658.10 L108.00,655.96 L108.50,651.64 L109.00,646.20 L109.50,640.69 L110.00,635.74 L110.50,630.46 L111.00,625.07 L111.50,620.01 L112.00,615.60 L112.50,611.44 L113.00,607.53 L113.50,604.04 L114.00,601.15 L114.50,598.57 L115.00,596.13 L115.50,594.09 L116.00,592.76 L116.50,592.06 L117.00,591.38 L117.50,590.71 L118.00,590.05 L118.50,589.39 L119.00,588.76 L119.50,588.35 L120.00,588.16 L120.50,588.13 L121.00,588.19 L121.50,588.30 L122.00,588.39 L122.50,588.41 L123.00,588.36 L123.50,588.34 L124.00,588.33 L124.50,588.32 L125.00,588.32 L125.50,588.29 L126.00,588.25 L126.50,588.18 L127.00,588.07 L127.50,587.99 L128.00,587.94 L128.50,587.88 L129.00,587.78 L129.50,587.59 L130.00,587.28 L130.50,586.82 L131.00,586.22 L131.50,585.62 L132.00,585.01 L132.50,584.40 L133.00,583.78 L133.50,583.14 L134.00,582.42 L134.50,581.64 L135.00,580.80 L135.50,579.95 L136.00,579.10 L136.50,578.23 L137.00,577.33 L137.50,576.40 L138.00,575.47 L138.50,574.56 L139.00,573.68 L139.50,572.77 L140.00,571.85 L140.50,570.95 L141.00,570.09 L141.50,569.31 L142.00,568.62 L142.50,568.03 L143.00,567.49 L143.50,566.99 L144.00,566.53 L144.50,566.10 L145.00,565.68 L145.50,565.29 L146.00,564.90 L146.50,564.52 L147.00,564.13 L147.50,563.73 L148.00,563.32 L148.50,562.88 L149.00,562.42 L149.50,561.92 L150.00,561.37 L150.50,560.79 L151.00,560.19 L151.50,559.57 L152.00,558.94 L152.50,558.31 L153.00,557.66 L153.50,557.02 L154.00,556.37 L154.50,555.72 L155.00,555.07 L155.50,554.43 L156.00,553.79 L156.50,553.17 L157.00,552.56 L157.50,551.96 L158.00,551.37 L158.50,550.78 L159.00,550.19 L159.50,549.60 L160.00,549.01 L160.50,548.43 L161.00,547.85 L161.50,547.27 L162.00,546.70 L162.50,546.13 L163.00,545.57 L163.50,545.01 L164.00,544.46 L164.50,543.91 L165.00,543.37 L165.50,542.86 L166.00,542.36 L166.50,541.89 L167.00,541.42 L167.50,540.97 L168.00,540.52 L168.50,540.08 L169.00,539.64 L169.50,539.20 L170.00,538.76 L170.50,538.30 L171.00,537.84 L171.50,537.36 L172.00,536.87 L172.50,536.36 L173.00,535.86 L173.50,535.35 L174.00,534.85 L174.50,534.35 L175.00,533.85 L175.50,533.34 L176.00,532.84 L176.50,532.34 L177.00,531.84 L177.50,531.33 L178.00,530.83 L178.50,530.33 L179.00,529.82 L179.50,529.32 L180.00,528.81 L180.50,528.30 L181.00,527.78 L181.50,527.25 L182.00,526.72 L182.50,526.18 L183.00,525.64 L183.50,525.09 L184.00,524.55 L184.50,524.02 L185.00,523.48 L185.50,522.96 L186.00,522.44 L186.50,521.93 L187.00,521.44 L187.50,520.95 L188.00,520.47 L188.50,520.00 L189.00,519.53 L189.50,519.06 L190.00,518.60 L190.50,518.15 L191.00,517.69 L191.50,517.24 L192.00,516.79 L192.50,516.34 L193.00,515.89 L193.50,515.44 L194.00,514.98 L194.50,514.53 L195.00,514.07 L195.50,513.62 L196.00,513.17 L196.50,512.72 L197.00,512.26 L197.50,511.81 L198.00,511.36 L198.50,510.92 L199.00,510.47 L199.50,510.02 L200.00,509.58 L200.50,509.14 L201.00,508.70 L201.50,508.26 L202.00,507.82 L202.50,507.38 L203.00,506.95 L203.50,506.52 L204.00,506.09 L204.50,505.66 L205.00,505.24 L205.50,504.81 L206.00,504.38 L206.50,503.96 L207.00,503.53 L207.50,503.10 L208.00,502.68 L208.50,502.25 L209.00,501.81 L209.50,501.38 L210.00,500.95 L210.50,500.51 L211.00,500.07 L211.50,499.64 L212.00,499.21 L212.50,498.78 L213.00,498.34 L213.50,497.91 L214.00,497.48 L214.50,497.06 L215.00,496.63 L215.50,496.20 L216.00,495.78 L216.50,495.35 L217.00,494.93 L217.50,494.50 L218.00,494.08 L218.50,493.66 L219.00,493.24 L219.50,492.82 L220.00,492.40 L221.00,491.57 L222.00,490.74 L223.00,489.92 L224.00,489.09 L225.00,488.28 L226.00,487.46 L227.00,486.65 L228.00,485.84 L229.00,485.04 L230.00,484.24 L231.00,483.44 L232.00,482.65 L233.00,481.86 L234.00,481.07 L235.00,480.29 L236.00,479.51 L237.00,478.73 L238.00,477.96 L239.00,477.19 L240.00,476.43 L241.00,475.67 L242.00,474.91 L243.00,474.15 L244.00,473.40 L245.00,472.65 L246.00,471.91 L247.00,471.17 L248.00,470.43 L249.00,469.69 L250.00,468.96 L251.00,468.24 L252.00,467.51 L253.00,466.79 L254.00,466.07 L255.00,465.36 L256.00,464.64 L257.00,463.94 L258.00,463.23 L259.00,462.53 L260.00,461.83 L261.00,461.14 L262.00,460.44 L263.00,459.76 L264.00,459.07 L265.00,458.39 L266.00,457.71 L267.00,457.03 L268.00,456.36 L269.00,455.69 L270.00,455.02 L271.00,454.36 L272.00,453.70 L273.00,453.04 L274.00,452.38 L275.00,451.73 L276.00,451.08 L277.00,450.44 L278.00,449.80 L279.00,449.16 L280.00,448.52 L281.00,447.89 L282.00,447.26 L283.00,446.63 L284.00,446.00 L285.00,445.38 L286.00,444.76 L287.00,444.15 L288.00,443.53 L289.00,442.92 L290.00,442.32 L291.00,441.71 L292.00,441.11 L293.00,440.51 L294.00,439.92 L295.00,439.32 L296.00,438.73 L297.00,438.15 L298.00,437.56 L299.00,436.98 L300.00,436.40 L301.00,435.83 L302.00,435.25 L303.00,434.68 L304.00,434.12 L305.00,433.55 L306.00,432.99 L307.00,432.43 L308.00,431.87 L309.00,431.32 L310.00,430.77 L311.00,430.22 L312.00,429.67 L313.00,429.13 L314.00,428.58 L315.00,428.05 L316.00,427.51 L317.00,426.98 L318.00,426.44 L319.00,425.92 L320.00,425.39 L321.00,424.87 L322.00,424.34 L323.00,423.83 L324.00,423.31 L325.00,422.80 L326.00,422.28 L327.00,421.78 L328.00,421.27 L329.00,420.76 L330.00,420.26 L331.00,419.76 L332.00,419.27 L333.00,418.77 L334.00,418.28 L335.00,417.79 L336.00,417.30 L337.00,416.81 L338.00,416.33 L339.00,415.85 L340.00,415.37 L341.00,414.89 L342.00,414.42 L343.00,413.95 L344.00,413.48 L345.00,413.01 L346.00,412.54 L347.00,412.08 L348.00,411.62 L349.00,411.16 L350.00,410.70 L351.00,410.25 L352.00,409.79 L353.00,409.34 L354.00,408.89 L355.00,408.45 L356.00,408.00 L357.00,407.56 L358.00,407.12 L359.00,406.68 L360.00,406.25 L361.00,405.81 L362.00,405.38 L363.00,404.95 L364.00,404.52 L365.00,404.09 L366.00,403.67 L367.00,403.25 L368.00,402.83 L369.00,402.41 L370.00,401.99 L371.00,401.57 L372.00,401.16 L373.00,400.75 L374.00,400.34 L375.00,399.93 L376.00,399.53 L377.00,399.13 L378.00,398.72 L379.00,398.32 L380.00,397.93 L381.00,397.53 L382.00,397.13 L383.00,396.74 L384.00,396.35 L385.00,395.96 L386.00,395.57 L387.00,395.19 L388.00,394.80 L389.00,394.42 L390.00,394.04 L391.00,393.66 L392.00,393.28 L393.00,392.91 L394.00,392.53 L395.00,392.16 L396.00,391.79 L397.00,391.42 L398.00,391.06 L399.00,390.69 L400.00,390.33 L401.00,389.96 L402.00,389.60 L403.00,389.24 L404.00,388.89 L405.00,388.53 L406.00,388.18 L407.00,387.82 L408.00,387.47 L409.00,387.12 L410.00,386.77 L411.00,386.43 L412.00,386.08 L413.00,385.74 L414.00,385.40 L415.00,385.05 L416.00,384.71 L417.00,384.38 L418.00,384.04 L419.00,383.71 L420.00,383.37 L421.00,383.04 L422.00,382.71 L423.00,382.38 L424.00,382.05 L425.00,381.73 L426.00,381.40 L427.00,381.08 L428.00,380.76 L429.00,380.44 L430.00,380.12 L431.00,379.80 L432.00,379.49 L433.00,379.17 L434.00,378.86 L435.00,378.55 L436.00,378.24 L437.00,377.93 L438.00,377.62 L439.00,377.32 L440.00,377.02 L441.00,376.71 L442.00,376.41 L443.00,376.11 L444.00,375.81 L445.00,375.52 L446.00,375.22 L447.00,374.93 L448.00,374.63 L449.00,374.34 L450.00,374.05 L451.00,373.76 L452.00,373.47 L453.00,373.19 L454.00,372.90 L455.00,372.62 L456.00,372.34 L457.00,372.06 L458.00,371.78 L459.00,371.50 L460.00,371.22 L461.00,370.95 L462.00,370.67 L463.00,370.40 L464.00,370.13 L465.00,369.86 L466.00,369.59 L467.00,369.32 L468.00,369.05 L469.00,368.78 L470.00,368.52 L471.00,368.26 L472.00,367.99 L473.00,367.73 L474.00,367.47 L475.00,367.22 L476.00,366.96 L477.00,366.70 L478.00,366.45 L479.00,366.19 L480.00,365.94 L481.00,365.69 L482.00,365.44 L483.00,365.19 L484.00,364.94 L485.00,364.70 L486.00,364.45 L487.00,364.21 L488.00,363.96 L489.00,363.72 L490.00,363.48 L491.00,363.24 L492.00,363.00 L493.00,362.76 L494.00,362.53 L495.00,362.29 L496.00,362.06 L497.00,361.82 L498.00,361.59 L499.00,361.36 L500.00,361.13 L501.00,360.90 L502.00,360.67 L503.00,360.44 L504.00,360.22 L505.00,359.99 L506.00,359.77 L507.00,359.55 L508.00,359.32 L509.00,359.10 L510.00,358.88 L511.00,358.67 L512.00,358.45 L513.00,358.23 L514.00,358.01 L515.00,357.80 L516.00,357.59 L517.00,357.37 L518.00,357.16 L519.00,356.95 L520.00,356.74 L521.00,356.53 L522.00,356.32 L523.00,356.12 L524.00,355.91 L525.00,355.71 L526.00,355.50 L527.00,355.30 L528.00,355.10 L529.00,354.90 L530.00,354.70 L531.00,354.50 L532.00,354.30 L533.00,354.10 L534.00,353.90 L535.00,353.71 L536.00,353.51 L537.00,353.32 L538.00,353.13 L539.00,352.93 L540.00,352.74 L541.00,352.55 L542.00,352.36 L543.00,352.17 L544.00,351.99 L545.00,351.80 L546.00,351.61 L547.00,351.43 L548.00,351.24 L549.00,351.06 L550.00,350.88 L551.00,350.70 L552.00,350.52 L553.00,350.34 L554.00,350.16 L555.00,349.98 L556.00,349.80 L557.00,349.62 L558.00,349.45 L559.00,349.27 L560.00,349.10 L561.00,348.93 L562.00,348.75 L563.00,348.58 L564.00,348.41 L565.00,348.24 L566.00,348.07 L567.00,347.90 L568.00,347.73 L569.00,347.57 L570.00,347.40 L571.00,347.23 L572.00,347.07 L573.00,346.91 L574.00,346.74 L575.00,346.58 L576.00,346.42 L577.00,346.26 L578.00,346.10 L579.00,345.94 L580.00,345.78 L581.00,345.62 L582.00,345.46 L583.00,345.31 L584.00,345.15 L585.00,344.99 L586.00,344.84 L587.00,344.69 L588.00,344.53 L589.00,344.38 L590.00,344.23 L591.00,344.08 L592.00,343.93 L593.00,343.78 L594.00,343.63 L595.00,343.48 L596.00,343.33 L597.00,343.19 L598.00,343.04 L599.00,342.90 L600.00,342.75 L601.00,342.61 L602.00,342.46 L603.00,342.32 L604.00,342.18 L605.00,342.04 L606.00,341.90 L607.00,341.76 L608.00,341.62 L609.00,341.48 L610.00,341.34 L611.00,341.20 L612.00,341.06 L613.00,340.93 L614.00,340.79 L615.00,340.66 L616.00,340.52 L617.00,340.39 L618.00,340.25 L619.00,340.12 L620.00,339.99 L621.00,339.86 L622.00,339.72 L623.00,339.59 L624.00,339.46 L625.00,339.33 L626.00,339.21 L627.00,339.08 L628.00,338.95 L629.00,338.82 L630.00,338.70 L631.00,338.57 L632.00,338.44 L633.00,338.32 L634.00,338.19 L635.00,338.07 L636.00,337.95 L637.00,337.83 L638.00,337.70 L639.00,337.58 L640.00,337.46 L641.00,337.34 L642.00,337.22 L643.00,337.10 L644.00,336.98 L645.00,336.86 L646.00,336.75 L647.00,336.63 L648.00,336.51 L649.00,336.39 L650.00,336.28 L651.00,336.16 L652.00,336.05 L653.00,335.94 L654.00,335.82 L655.00,335.71 L656.00,335.60 L657.00,335.48 L658.00,335.37 L659.00,335.26 L660.00,335.15 L661.00,335.04 L662.00,334.93 L663.00,334.82 L664.00,334.71 L665.00,334.60 L666.00,334.50 L667.00,334.39 L668.00,334.28 L669.00,334.18 L670.00,334.07 L671.00,333.96 L672.00,333.86 L673.00,333.76 L674.00,333.65 L675.00,333.55 L676.00,333.45 L677.00,333.34 L678.00,333.24 L679.00,333.14 L680.00,333.04 L681.00,332.94 L682.00,332.84 L683.00,332.74 L684.00,332.64 L685.00,332.54 L686.00,332.44 L687.00,332.34 L688.00,332.25 L689.00,332.15 L690.00,332.05 L691.00,331.96 L692.00,331.86 L693.00,331.76 L694.00,331.67 L695.00,331.57 L696.00,331.48 L697.00,331.39 L698.00,331.29 L699.00,331.20 L700.00,331.11 L701.00,331.02 L702.00,330.92 L703.00,330.83 L704.00,330.74 L705.00,330.65 L706.00,330.56 L707.00,330.47 L708.00,330.38 L709.00,330.30 L710.00,330.21 L711.00,330.12 L712.00,330.03 L713.00,329.94 L714.00,329.86 L715.00,329.77 L716.00,329.69 L717.00,329.60 L718.00,329.51 L719.00,329.43 L720.00,329.35 L721.00,329.26 L722.00,329.18 L723.00,329.09 L724.00,329.01 L725.00,328.93 L726.00,328.85 L727.00,328.77 L728.00,328.68 L729.00,328.60 L730.00,328.52 L731.00,328.44 L732.00,328.36 L733.00,328.28 L734.00,328.20 L735.00,328.13 L736.00,328.05 L737.00,327.97 L738.00,327.89 L739.00,327.81 L740.00,327.74 L741.00,327.66 L742.00,327.58 L743.00,327.51 L744.00,327.43 L745.00,327.36 L746.00,327.28 L747.00,327.21 L748.00,327.13 L749.00,327.06 L750.00,326.99 L751.00,326.91 L752.00,326.84 L753.00,326.77 L754.00,326.70 L755.00,326.62 L756.00,326.55 L757.00,326.48 L758.00,326.41 L759.00,326.34 L760.00,326.27 L761.00,326.20 L762.00,326.13 L763.00,326.06 L764.00,325.99 L765.00,325.93 L766.00,325.86 L767.00,325.79 L768.00,325.72 L769.00,325.65 L770.00,325.59 L771.00,325.52 L772.00,325.45 L773.00,325.39 L774.00,325.32 L775.00,325.26 L776.00,325.19 L777.00,325.13 L778.00,325.06 L779.00,325.00 L780.00,324.94 L781.00,324.87 L782.00,324.81 L783.00,324.75 L784.00,324.68 L785.00,324.62 L786.00,324.56 L787.00,324.50 L788.00,324.44 L789.00,324.38 L790.00,324.31 L791.00,324.25 L792.00,324.19 L793.00,324.13 L794.00,324.07 L795.00,324.02 L796.00,323.96 L797.00,323.90 L798.00,323.84 L799.00,323.78 L800.00,323.72 L801.00,323.66 L802.00,323.61 L803.00,323.55 L804.00,323.49 L805.00,323.44 L806.00,323.38 L807.00,323.32 L808.00,323.27 L809.00,323.21 L810.00,323.16 L811.00,323.10 L812.00,323.05 L813.00,322.99 L814.00,322.94 L815.00,322.89 L816.00,322.83 L817.00,322.78 L818.00,322.72 L819.00,322.67 L820.00,322.62 L821.00,322.57 L822.00,322.51 L823.00,322.46 L824.00,322.41 L825.00,322.36 L826.00,322.31 L827.00,322.26 L828.00,322.20 L829.00,322.15 L830.00,322.10 L831.00,322.05 L832.00,322.00 L833.00,321.95 L834.00,321.90 L835.00,321.85 L836.00,321.81 L837.00,321.76 L838.00,321.71 L839.00,321.66 L840.00,321.61 L841.00,321.56 L842.00,321.52 L843.00,321.47 L844.00,321.42 L845.00,321.37 L846.00,321.33 L847.00,321.28 L848.00,321.23 L849.00,321.19 L850.00,321.14 L851.00,321.10 L852.00,321.05 L853.00,321.01 L854.00,320.96 L855.00,320.92 L856.00,320.87 L857.00,320.83 L858.00,320.78 L859.00,320.74 L860.00,320.69 L861.00,320.65 L862.00,320.61 L863.00,320.56 L864.00,320.52 L865.00,320.48 L866.00,320.43 L867.00,320.39 L868.00,320.35 L869.00,320.31 L870.00,320.26 L871.00,320.22 L872.00,320.18 L873.00,320.14 L874.00,320.10 L875.00,320.06 L876.00,320.02 L877.00,319.98 L878.00,319.94 L879.00,319.90 L880.00,319.86 L881.00,319.82 L882.00,319.78 L883.00,319.74 L884.00,319.70 L885.00,319.66 L886.00,319.62 L887.00,319.58 L888.00,319.54 L889.00,319.50 L890.00,319.47 L891.00,319.43 L892.00,319.39 L893.00,319.35 L894.00,319.31 L895.00,319.28 L896.00,319.24 L897.00,319.20 L898.00,319.17 L899.00,319.13 L900.00,319.09 L901.00,319.06 L902.00,319.02 L903.00,318.98 L904.00,318.95 L905.00,318.91 L906.00,318.88 L907.00,318.84 L908.00,318.81 L909.00,318.77 L910.00,318.74 L911.00,318.70 L912.00,318.67 L913.00,318.63 L914.00,318.60 L915.00,318.56 L916.00,318.53 L917.00,318.50 L918.00,318.46 L919.00,318.43 L920.00,318.40 L921.00,318.36 L922.00,318.33 L923.00,318.30 L924.00,318.26 L925.00,318.23 L926.00,318.20 L927.00,318.17 L928.00,318.14 L929.00,318.10 L930.00,318.07 L931.00,318.04 L932.00,318.01 L933.00,317.98 L934.00,317.95 L935.00,317.91 L936.00,317.88 L937.00,317.85 L938.00,317.82 L939.00,317.79 L940.00,317.76 L941.00,317.73 L942.00,317.70 L943.00,317.67 L944.00,317.64 L945.00,317.61 L946.00,317.58 L947.00,317.55 L948.00,317.52 L949.00,317.49 L950.00,317.47 L951.00,317.44 L952.00,317.41 L953.00,317.38 L954.00,317.35 L955.00,317.32 L956.00,317.30 L957.00,317.27 L958.00,317.24 L959.00,317.21 L960.00,317.18 L961.00,317.16 L962.00,317.13 L963.00,317.10 L964.00,317.07 L965.00,317.05 L966.00,317.02 L967.00,316.99 L968.00,316.97 L969.00,316.94 L970.00,316.91 L971.00,316.89 L972.00,316.86 L973.00,316.84 L974.00,316.81 L975.00,316.78 L976.00,316.76 L977.00,316.73 L978.00,316.71 L979.00,316.68 L980.00,316.66 L981.00,316.63 L982.00,316.61 L983.00,316.58 L984.00,316.56 L985.00,316.53 L986.00,316.51 L987.00,316.48 L988.00,316.46 L989.00,316.44 L990.00,316.41 L991.00,316.39 L992.00,316.36 L993.00,316.34 L994.00,316.32 L995.00,316.29 L996.00,316.27 L997.00,316.25 L998.00,316.22 L999.00,316.20 L1000.00,316.18 L1001.00,316.16 L1002.00,316.13 L1003.00,316.11 L1004.00,316.09 L1005.00,316.07 L1006.00,316.04 L1007.00,316.02 L1008.00,316.00 L1009.00,315.98 L1010.00,315.96 L1011.00,315.93 L1012.00,315.91 L1013.00,315.89 L1014.00,315.87 L1015.00,315.85 L1016.00,315.83"/>
<path class="c" stroke="#00FFFF" d="M106.00,659.60 L106.50,659.55 L107.00,659.37 L107.50,659.10 L108.00,658.76 L108.50,658.38 L109.00,657.15 L109.50,653.94 L110.00,649.75 L110.50,645.66 L111.00,642.40 L111.50,639.21 L112.00,636.13 L112.50,633.33 L113.00,630.96 L113.50,628.77 L114.00,626.73 L114.50,625.04 L115.00,623.90 L115.50,623.13 L116.00,622.42 L116.50,621.78 L117.00,621.22 L117.50,620.76 L118.00,620.40 L118.50,620.17 L119.00,620.03 L119.50,619.97 L120.00,619.95 L120.50,619.95 L121.00,619.94 L121.50,619.90 L122.00,619.84 L122.50,619.80 L123.00,619.77 L123.50,619.75 L124.00,619.73 L124.50,619.71 L125.00,619.69 L125.50,619.66 L126.00,619.61 L126.50,619.55 L127.00,619.48 L127.50,619.42 L128.00,619.38 L128.50,619.34 L129.00,619.28 L129.50,619.20 L130.00,619.07 L130.50,618.87 L131.00,618.60 L131.50,618.25 L132.00,617.87 L132.50,617.48 L133.00,617.07 L133.50,616.64 L134.00,616.21 L134.50,615.76 L135.00,615.20 L135.50,614.53 L136.00,613.80 L136.50,613.05 L137.00,612.32 L137.50,611.68 L138.00,611.10 L138.50,610.53 L139.00,609.96 L139.50,609.43 L140.00,608.94 L140.50,608.52 L141.00,608.17 L141.50,607.87 L142.00,607.60 L142.50,607.35 L143.00,607.12 L143.50,606.90 L144.00,606.68 L144.50,606.47 L145.00,606.25 L145.50,606.02 L146.00,605.82 L146.50,605.63 L147.00,605.45 L147.50,605.28 L148.00,605.11 L148.50,604.93 L149.00,604.75 L149.50,604.55 L150.00,604.33 L150.50,604.10 L151.00,603.83 L151.50,603.54 L152.00,603.22 L152.50,602.90 L153.00,602.57 L153.50,602.24 L154.00,601.91 L154.50,601.58 L155.00,601.24 L155.50,600.91 L156.00,600.57 L156.50,600.23 L157.00,599.89 L157.50,599.54 L158.00,599.20 L158.50,598.84 L159.00,598.45 L159.50,598.04 L160.00,597.61 L160.50,597.18 L161.00,596.74 L161.50,596.30 L162.00,595.87 L162.50,595.46 L163.00,595.08 L163.50,594.72 L164.00,594.40 L164.50,594.10 L165.00,593.81 L165.50,593.53 L166.00,593.25 L166.50,592.97 L167.00,592.70 L167.50,592.43 L168.00,592.17 L168.50,591.91 L169.00,591.65 L169.50,591.40 L170.00,591.15 L170.50,590.91 L171.00,590.66 L171.50,590.42 L172.00,590.18 L172.50,589.94 L173.00,589.71 L173.50,589.47 L174.00,589.24 L174.50,589.00 L175.00,588.77 L175.50,588.54 L176.00,588.30 L176.50,588.07 L177.00,587.84 L177.50,587.60 L178.00,587.36 L178.50,587.13 L179.00,586.89 L179.50,586.65 L180.00,586.40 L180.50,586.16 L181.00,585.91 L181.50,585.66 L182.00,585.41 L182.50,585.16 L183.00,584.92 L183.50,584.67 L184.00,584.42 L184.50,584.18 L185.00,583.93 L185.50,583.69 L186.00,583.45 L186.50,583.20 L187.00,582.96 L187.50,582.72 L188.00,582.48 L188.50,582.24 L189.00,581.99 L189.50,581.75 L190.00,581.51 L190.50,581.27 L191.00,581.03 L191.50,580.79 L192.00,580.54 L192.50,580.30 L193.00,580.06 L193.50,579.82 L194.00,579.58 L194.50,579.33 L195.00,579.09 L195.50,578.85 L196.00,578.60 L196.50,578.36 L197.00,578.11 L197.50,577.86 L198.00,577.62 L198.50,577.37 L199.00,577.12 L199.50,576.87 L200.00,576.62 L200.50,576.37 L201.00,576.12 L201.50,575.87 L202.00,575.62 L202.50,575.37 L203.00,575.13 L203.50,574.88 L204.00,574.63 L204.50,574.39 L205.00,574.14 L205.50,573.89 L206.00,573.65 L206.50,573.41 L207.00,573.16 L207.50,572.92 L208.00,572.68 L208.50,572.43 L209.00,572.19 L209.50,571.95 L210.00,571.71 L210.50,571.47 L211.00,571.23 L211.50,570.99 L212.00,570.75 L212.50,570.51 L213.00,570.28 L213.50,570.04 L214.00,569.80 L214.50,569.57 L215.00,569.33 L215.50,569.10 L216.00,568.86 L216.50,568.63 L217.00,568.39 L217.50,568.16 L218.00,567.93 L218.50,567.70 L219.00,567.46 L219.50,567.23 L220.00,567.00 L221.00,566.54 L222.00,566.08 L223.00,565.63 L224.00,565.17 L225.00,564.72 L226.00,564.27 L227.00,563.82 L228.00,563.37 L229.00,562.93 L230.00,562.48 L231.00,562.04 L232.00,561.60 L233.00,561.16 L234.00,560.73 L235.00,560.29 L236.00,559.86 L237.00,559.43 L238.00,559.01 L239.00,558.58 L240.00,558.16 L241.00,557.73 L242.00,557.31 L243.00,556.90 L244.00,556.48 L245.00,556.07 L246.00,555.65 L247.00,555.24 L248.00,554.83 L249.00,554.43 L250.00,554.02 L251.00,553.62 L252.00,553.22 L253.00,552.82 L254.00,552.42 L255.00,552.03 L256.00,551.63 L257.00,551.24 L258.00,550.85 L259.00,550.46 L260.00,550.08 L261.00,549.69 L262.00,549.31 L263.00,548.93 L264.00,548.55 L265.00,548.17 L266.00,547.79 L267.00,547.42 L268.00,547.05 L269.00,546.68 L270.00,546.31 L271.00,545.94 L272.00,545.57 L273.00,545.21 L274.00,544.85 L275.00,544.49 L276.00,544.13 L277.00,543.77 L278.00,543.41 L279.00,543.06 L280.00,542.71 L281.00,542.35 L282.00,542.01 L283.00,541.66 L284.00,541.31 L285.00,540.97 L286.00,540.62 L287.00,540.28 L288.00,539.94 L289.00,539.60 L290.00,539.27 L291.00,538.93 L292.00,538.60 L293.00,538.27 L294.00,537.93 L295.00,537.61 L296.00,537.28 L297.00,536.95 L298.00,536.63 L299.00,536.30 L300.00,535.98 L301.00,535.66 L302.00,535.34 L303.00,535.03 L304.00,534.71 L305.00,534.40 L306.00,534.08 L307.00,533.77 L308.00,533.46 L309.00,533.15 L310.00,532.85 L311.00,532.54 L312.00,532.23 L313.00,531.93 L314.00,531.63 L315.00,531.33 L316.00,531.03 L317.00,530.73 L318.00,530.44 L319.00,530.14 L320.00,529.85 L321.00,529.56 L322.00,529.27 L323.00,528.98 L324.00,528.69 L325.00,528.40 L326.00,528.12 L327.00,527.83 L328.00,527.55 L329.00,527.27 L330.00,526.99 L331.00,526.71 L332.00,526.43 L333.00,526.15 L334.00,525.88 L335.00,525.60 L336.00,525.33 L337.00,525.06 L338.00,524.79 L339.00,524.52 L340.00,524.25 L341.00,523.99 L342.00,523.72 L343.00,523.46 L344.00,523.20 L345.00,522.93 L346.00,522.67 L347.00,522.41 L348.00,522.16 L349.00,521.90 L350.00,521.64 L351.00,521.39 L352.00,521.14 L353.00,520.88 L354.00,520.63 L355.00,520.38 L356.00,520.13 L357.00,519.89 L358.00,519.64 L359.00,519.39 L360.00,519.15 L361.00,518.91 L362.00,518.66 L363.00,518.42 L364.00,518.18 L365.00,517.95 L366.00,517.71 L367.00,517.47 L368.00,517.24 L369.00,517.00 L370.00,516.77 L371.00,516.54 L372.00,516.31 L373.00,516.08 L374.00,515.85 L375.00,515.62 L376.00,515.39 L377.00,515.17 L378.00,514.94 L379.00,514.72 L380.00,514.49 L381.00,514.27 L382.00,514.05 L383.00,513.83 L384.00,513.61 L385.00,513.40 L386.00,513.18 L387.00,512.96 L388.00,512.75 L389.00,512.53 L390.00,512.32 L391.00,512.11 L392.00,511.90 L393.00,511.69 L394.00,511.48 L395.00,511.27 L396.00,511.07 L397.00,510.86 L398.00,510.65 L399.00,510.45 L400.00,510.25 L401.00,510.04 L402.00,509.84 L403.00,509.64 L404.00,509.44 L405.00,509.24 L406.00,509.05 L407.00,508.85 L408.00,508.65 L409.00,508.46 L410.00,508.26 L411.00,508.07 L412.00,507.88 L413.00,507.69 L414.00,507.50 L415.00,507.31 L416.00,507.12 L417.00,506.93 L418.00,506.74 L419.00,506.56 L420.00,506.37 L421.00,506.19 L422.00,506.00 L423.00,505.82 L424.00,505.64 L425.00,505.46 L426.00,505.28 L427.00,505.10 L428.00,504.92 L429.00,504.74 L430.00,504.56 L431.00,504.39 L432.00,504.21 L433.00,504.04 L434.00,503.86 L435.00,503.69 L436.00,503.52 L437.00,503.35 L438.00,503.18 L439.00,503.01 L440.00,502.84 L441.00,502.67 L442.00,502.50 L443.00,502.33 L444.00,502.17 L445.00,502.00 L446.00,501.84 L447.00,501.67 L448.00,501.51 L449.00,501.35 L450.00,501.19 L451.00,501.03 L452.00,500.87 L453.00,500.71 L454.00,500.55 L455.00,500.39 L456.00,500.23 L457.00,500.07 L458.00,499.91 L459.00,499.75 L460.00,499.59 L461.00,499.44 L462.00,499.28 L463.00,499.12 L464.00,498.97 L465.00,498.81 L466.00,498.65 L467.00,498.50 L468.00,498.35 L469.00,498.19 L470.00,498.04 L471.00,497.88 L472.00,497.73 L473.00,497.58 L474.00,497.43 L475.00,497.28 L476.00,497.13 L477.00,496.98 L478.00,496.83 L479.00,496.68 L480.00,496.53 L481.00,496.38 L482.00,496.23 L483.00,496.09 L484.00,495.94 L485.00,495.80 L486.00,495.65 L487.00,495.51 L488.00,495.36 L489.00,495.22 L490.00,495.08 L491.00,494.94 L492.00,494.79 L493.00,494.65 L494.00,494.51 L495.00,494.37 L496.00,494.24 L497.00,494.10 L498.00,493.96 L499.00,493.82 L500.00,493.69 L501.00,493.55 L502.00,493.42 L503.00,493.29 L504.00,493.15 L505.00,493.02 L506.00,492.89 L507.00,492.76 L508.00,492.63 L509.00,492.50 L510.00,492.37 L511.00,492.25 L512.00,492.12 L513.00,491.99 L514.00,491.87 L515.00,491.75 L516.00,491.62 L517.00,491.50 L518.00,491.38 L519.00,491.26 L520.00,491.14 L521.00,491.02 L522.00,490.90 L523.00,490.79 L524.00,490.67 L525.00,490.55 L526.00,490.44 L527.00,490.32 L528.00,490.21 L529.00,490.09 L530.00,489.98 L531.00,489.87 L532.00,489.75 L533.00,489.64 L534.00,489.53 L535.00,489.42 L536.00,489.31 L537.00,489.20 L538.00,489.09 L539.00,488.98 L540.00,488.87 L541.00,488.76 L542.00,488.65 L543.00,488.55 L544.00,488.44 L545.00,488.33 L546.00,488.23 L547.00,488.12 L548.00,488.02 L549.00,487.91 L550.00,487.81 L551.00,487.71 L552.00,487.60 L553.00,487.50 L554.00,487.40 L555.00,487.30 L556.00,487.20 L557.00,487.10 L558.00,487.00 L559.00,486.90 L560.00,486.80 L561.00,486.70 L562.00,486.60 L563.00,486.51 L564.00,486.41 L565.00,486.31 L566.00,486.21 L567.00,486.12 L568.00,486.02 L569.00,485.93 L570.00,485.83 L571.00,485.74 L572.00,485.65 L573.00,485.55 L574.00,485.46 L575.00,485.37 L576.00,485.28 L577.00,485.18 L578.00,485.09 L579.00,485.00 L580.00,484.91 L581.00,484.82 L582.00,484.73 L583.00,484.64 L584.00,484.56 L585.00,484.47 L586.00,484.38 L587.00,484.29 L588.00,484.21 L589.00,484.12 L590.00,484.03 L591.00,483.95 L592.00,483.86 L593.00,483.78 L594.00,483.69 L595.00,483.61 L596.00,483.52 L597.00,483.44 L598.00,483.36 L599.00,483.28 L600.00,483.19 L601.00,483.11 L602.00,483.03 L603.00,482.95 L604.00,482.87 L605.00,482.79 L606.00,482.71 L607.00,482.63 L608.00,482.55 L609.00,482.47 L610.00,482.39 L611.00,482.31 L612.00,482.24 L613.00,482.16 L614.00,482.08 L615.00,482.01 L616.00,481.93 L617.00,481.85 L618.00,481.78 L619.00,481.70 L620.00,481.63 L621.00,481.55 L622.00,481.48 L623.00,481.40 L624.00,481.33 L625.00,481.26 L626.00,481.18 L627.00,481.11 L628.00,481.04 L629.00,480.97 L630.00,480.90 L631.00,480.83 L632.00,480.75 L633.00,480.68 L634.00,480.61 L635.00,480.54 L636.00,480.47 L637.00,480.40 L638.00,480.34 L639.00,480.27 L640.00,480.20 L641.00,480.13 L642.00,480.06 L643.00,480.00 L644.00,479.93 L645.00,479.86 L646.00,479.80 L647.00,479.73 L648.00,479.66 L649.00,479.60 L650.00,479.53 L651.00,479.47 L652.00,479.40 L653.00,479.34 L654.00,479.28 L655.00,479.21 L656.00,479.15 L657.00,479.09 L658.00,479.02 L659.00,478.96 L660.00,478.90 L661.00,478.84 L662.00,478.77 L663.00,478.71 L664.00,478.65 L665.00,478.59 L666.00,478.53 L667.00,478.47 L668.00,478.41 L669.00,478.35 L670.00,478.29 L671.00,478.23 L672.00,478.17 L673.00,478.11 L674.00,478.06 L675.00,478.00 L676.00,477.94 L677.00,477.88 L678.00,477.83 L679.00,477.77 L680.00,477.71 L681.00,477.65 L682.00,477.60 L683.00,477.54 L684.00,477.49 L685.00,477.43 L686.00,477.38 L687.00,477.32 L688.00,477.27 L689.00,477.21 L690.00,477.16 L691.00,477.10 L692.00,477.05 L693.00,477.00 L694.00,476.94 L695.00,476.89 L696.00,476.84 L697.00,476.79 L698.00,476.73 L699.00,476.68 L700.00,476.63 L701.00,476.58 L702.00,476.53 L703.00,476.48 L704.00,476.42 L705.00,476.37 L706.00,476.32 L707.00,476.27 L708.00,476.22 L709.00,476.17 L710.00,476.12 L711.00,476.08 L712.00,476.03 L713.00,475.98 L714.00,475.93 L715.00,475.88 L716.00,475.83 L717.00,475.78 L718.00,475.74 L719.00,475.69 L720.00,475.64 L721.00,475.60 L722.00,475.55 L723.00,475.50 L724.00,475.46 L725.00,475.41 L726.00,475.36 L727.00,475.32 L728.00,475.27 L729.00,475.23 L730.00,475.18 L731.00,475.14 L732.00,475.09 L733.00,475.05 L734.00,475.00 L735.00,474.96 L736.00,474.92 L737.00,474.87 L738.00,474.83 L739.00,474.78 L740.00,474.74 L741.00,474.70 L742.00,474.66 L743.00,474.61 L744.00,474.57 L745.00,474.53 L746.00,474.49 L747.00,474.45 L748.00,474.40 L749.00,474.36 L750.00,474.32 L751.00,474.28 L752.00,474.24 L753.00,474.20 L754.00,474.16 L755.00,474.12 L756.00,474.08 L757.00,474.04 L758.00,474.00 L759.00,473.96 L760.00,473.92 L761.00,473.88 L762.00,473.84 L763.00,473.80 L764.00,473.76 L765.00,473.72 L766.00,473.69 L767.00,473.65 L768.00,473.61 L769.00,473.57 L770.00,473.54 L771.00,473.50 L772.00,473.46 L773.00,473.42 L774.00,473.39 L775.00,473.35 L776.00,473.31 L777.00,473.28 L778.00,473.24 L779.00,473.20 L780.00,473.17 L781.00,473.13 L782.00,473.10 L783.00,473.06 L784.00,473.03 L785.00,472.99 L786.00,472.96 L787.00,472.92 L788.00,472.89 L789.00,472.85 L790.00,472.82 L791.00,472.78 L792.00,472.75 L793.00,472.72 L794.00,472.68 L795.00,472.65 L796.00,472.62 L797.00,472.58 L798.00,472.55 L799.00,472.52 L800.00,472.48 L801.00,472.45 L802.00,472.42 L803.00,472.39 L804.00,472.35 L805.00,472.32 L806.00,472.29 L807.00,472.26 L808.00,472.23 L809.00,472.19 L810.00,472.16 L811.00,472.13 L812.00,472.10 L813.00,472.07 L814.00,472.04 L815.00,472.01 L816.00,471.98 L817.00,471.95 L818.00,471.92 L819.00,471.89 L820.00,471.86 L821.00,471.83 L822.00,471.80 L823.00,471.77 L824.00,471.74 L825.00,471.71 L826.00,471.68 L827.00,471.65 L828.00,471.62 L829.00,471.59 L830.00,471.57 L831.00,471.54 L832.00,471.51 L833.00,471.48 L834.00,471.45 L835.00,471.42 L836.00,471.40 L837.00,471.37 L838.00,471.34 L839.00,471.31 L840.00,471.29 L841.00,471.26 L842.00,471.23 L843.00,471.21 L844.00,471.18 L845.00,471.15 L846.00,471.13 L847.00,471.10 L848.00,471.07 L849.00,471.05 L850.00,471.02 L851.00,470.99 L852.00,470.97 L853.00,470.94 L854.00,470.92 L855.00,470.89 L856.00,470.87 L857.00,470.84 L858.00,470.82 L859.00,470.79 L860.00,470.77 L861.00,470.74 L862.00,470.72 L863.00,470.69 L864.00,470.67 L865.00,470.64 L866.00,470.62 L867.00,470.60 L868.00,470.57 L869.00,470.55 L870.00,470.52 L871.00,470.50 L872.00,470.48 L873.00,470.45 L874.00,470.43 L875.00,470.41 L876.00,470.38 L877.00,470.36 L878.00,470.34 L879.00,470.31 L880.00,470.29 L881.00,470.27 L882.00,470.25 L883.00,470.22 L884.00,470.20 L885.00,470.18 L886.00,470.16 L887.00,470.14 L888.00,470.11 L889.00,470.09 L890.00,470.07 L891.00,470.05 L892.00,470.03 L893.00,470.01 L894.00,469.98 L895.00,469.96 L896.00,469.94 L897.00,469.92 L898.00,469.90 L899.00,469.88 L900.00,469.86 L901.00,469.84 L902.00,469.82 L903.00,469.80 L904.00,469.78 L905.00,469.76 L906.00,469.74 L907.00,469.72 L908.00,469.70 L909.00,469.68 L910.00,469.66 L911.00,469.64 L912.00,469.62 L913.00,469.60 L914.00,469.58 L915.00,469.56 L916.00,469.54 L917.00,469.52 L918.00,469.50 L919.00,469.48 L920.00,469.46 L921.00,469.44 L922.00,469.43 L923.00,469.41 L924.00,469.39 L925.00,469.37 L926.00,469.35 L927.00,469.33 L928.00,469.32 L929.00,469.30 L930.00,469.28 L931.00,469.26 L932.00,469.24 L933.00,469.23 L934.00,469.21 L935.00,469.19 L936.00,469.17 L937.00,469.16 L938.00,469.14 L939.00,469.12 L940.00,469.10 L941.00,469.09 L942.00,469.07 L943.00,469.05 L944.00,469.04 L945.00,469.02 L946.00,469.00 L947.00,468.99 L948.00,468.97 L949.00,468.95 L950.00,468.94 L951.00,468.92 L952.00,468.90 L953.00,468.89 L954.00,468.87 L955.00,468.86 L956.00,468.84 L957.00,468.82 L958.00,468.81 L959.00,468.79 L960.00,468.78 L961.00,468.76 L962.00,468.74 L963.00,468.73 L964.00,468.71 L965.00,468.70 L966.00,468.68 L967.00,468.67 L968.00,468.65 L969.00,468.64 L970.00,468.62 L971.00,468.61 L972.00,468.59 L973.00,468.58 L974.00,468.56 L975.00,468.55 L976.00,468.54 L977.00,468.52 L978.00,468.51 L979.00,468.49 L980.00,468.48 L981.00,468.46 L982.00,468.45 L983.00,468.44 L984.00,468.42 L985.00,468.41 L986.00,468.39 L987.00,468.38 L988.00,468.37 L989.00,468.35 L990.00,468.34 L991.00,468.33 L992.00,468.31 L993.00,468.30 L994.00,468.28 L995.00,468.27 L996.00,468.26 L997.00,468.25 L998.00,468.23 L999.00,468.22 L1000.00,468.21 L1001.00,468.19 L1002.00,468.18 L1003.00,468.17 L1004.00,468.16 L1005.00,468.14 L1006.00,468.13 L1007.00,468.12 L1008.00,468.10 L1009.00,468.09 L1010.00,468.08 L1011.00,468.07 L1012.00,468.06 L1013.00,468.04 L1014.00,468.03 L1015.00,468.02 L1016.00,468.01"/>
<path class="c" stroke="#000000" d="M106.00,659.60 L106.50,659.70 L107.00,659.79 L107.50,659.85 L108.00,659.90 L108.50,659.93 L109.00,659.95 L109.50,659.96 L110.00,659.96 L110.50,659.94 L111.00,659.92 L111.50,659.89 L112.00,659.86 L112.50,659.83 L113.00,659.79 L113.50,659.72 L114.00,659.60 L114.50,659.46 L115.00,659.29 L115.50,659.11 L116.00,658.93 L116.50,658.74 L117.00,658.50 L117.50,658.23 L118.00,657.97 L118.50,657.74 L119.00,657.56 L119.50,657.47 L120.00,657.39 L120.50,657.32 L121.00,657.26 L121.50,657.20 L122.00,657.14 L122.50,657.09 L123.00,657.05 L123.50,657.01 L124.00,656.98 L124.50,656.96 L125.00,656.95 L125.50,656.96 L126.00,656.97 L126.50,656.98 L127.00,657.01 L127.50,657.03 L128.00,657.06 L128.50,657.09 L129.00,657.12 L129.50,657.15 L130.00,657.17 L130.50,657.19 L131.00,657.20 L131.50,657.21 L132.00,657.20 L132.50,657.19 L133.00,657.18 L133.50,657.17 L134.00,657.15 L134.50,657.14 L135.00,657.12 L135.50,657.10 L136.00,657.08 L136.50,657.06 L137.00,657.04 L137.50,657.01 L138.00,656.97 L138.50,656.92 L139.00,656.86 L139.50,656.80 L140.00,656.72 L140.50,656.65 L141.00,656.58 L141.50,656.51 L142.00,656.45 L142.50,656.40 L143.00,656.36 L143.50,656.33 L144.00,656.30 L144.50,656.26 L145.00,656.23 L145.50,656.20 L146.00,656.17 L146.50,656.14 L147.00,656.11 L147.50,656.08 L148.00,656.05 L148.50,656.01 L149.00,655.98 L149.50,655.95 L150.00,655.92 L150.50,655.89 L151.00,655.86 L151.50,655.83 L152.00,655.80 L152.50,655.77 L153.00,655.74 L153.50,655.71 L154.00,655.68 L154.50,655.65 L155.00,655.62 L155.50,655.59 L156.00,655.56 L156.50,655.53 L157.00,655.50 L157.50,655.47 L158.00,655.45 L158.50,655.42 L159.00,655.39 L159.50,655.36 L160.00,655.33 L160.50,655.30 L161.00,655.27 L161.50,655.24 L162.00,655.21 L162.50,655.18 L163.00,655.16 L163.50,655.13 L164.00,655.10 L164.50,655.07 L165.00,655.05 L165.50,655.02 L166.00,654.99 L166.50,654.97 L167.00,654.95 L167.50,654.93 L168.00,654.90 L168.50,654.88 L169.00,654.86 L169.50,654.84 L170.00,654.83 L170.50,654.81 L171.00,654.79 L171.50,654.77 L172.00,654.76 L172.50,654.74 L173.00,654.73 L173.50,654.71 L174.00,654.70 L174.50,654.69 L175.00,654.67 L175.50,654.66 L176.00,654.65 L176.50,654.64 L177.00,654.63 L177.50,654.62 L178.00,654.61 L178.50,654.60 L179.00,654.59 L179.50,654.58 L180.00,654.57 L180.50,654.56 L181.00,654.55 L181.50,654.54 L182.00,654.53 L182.50,654.52 L183.00,654.51 L183.50,654.50 L184.00,654.49 L184.50,654.48 L185.00,654.47 L185.50,654.46 L186.00,654.45 L186.50,654.44 L187.00,654.43 L187.50,654.42 L188.00,654.41 L188.50,654.40 L189.00,654.39 L189.50,654.38 L190.00,654.37 L190.50,654.36 L191.00,654.35 L191.50,654.33 L192.00,654.32 L192.50,654.31 L193.00,654.29 L193.50,654.28 L194.00,654.26 L194.50,654.25 L195.00,654.23 L195.50,654.21 L196.00,654.20 L196.50,654.18 L197.00,654.16 L197.50,654.14 L198.00,654.12 L198.50,654.10 L199.00,654.08 L199.50,654.06 L200.00,654.03 L200.50,654.01 L201.00,653.98 L201.50,653.96 L202.00,653.94 L202.50,653.91 L203.00,653.89 L203.50,653.87 L204.00,653.84 L204.50,653.82 L205.00,653.80 L205.50,653.77 L206.00,653.75 L206.50,653.73 L207.00,653.70 L207.50,653.68 L208.00,653.66 L208.50,653.63 L209.00,653.61 L209.50,653.59 L210.00,653.56 L210.50,653.54 L211.00,653.52 L211.50,653.50 L212.00,653.47 L212.50,653.45 L213.00,653.43 L213.50,653.40 L214.00,653.38 L214.50,653.36 L215.00,653.34 L215.50,653.32 L216.00,653.29 L216.50,653.27 L217.00,653.25 L217.50,653.23 L218.00,653.20 L218.50,653.18 L219.00,653.16 L219.50,653.14 L220.00,653.12 L221.00,653.07 L222.00,653.03 L223.00,652.99 L224.00,652.94 L225.00,652.90 L226.00,652.86 L227.00,652.82 L228.00,652.77 L229.00,652.73 L230.00,652.69 L231.00,652.65 L232.00,652.61 L233.00,652.56 L234.00,652.52 L235.00,652.48 L236.00,652.44 L237.00,652.40 L238.00,652.36 L239.00,652.32 L240.00,652.28 L241.00,652.24 L242.00,652.20 L243.00,652.16 L244.00,652.12 L245.00,652.08 L246.00,652.04 L247.00,652.00 L248.00,651.97 L249.00,651.93 L250.00,651.89 L251.00,651.85 L252.00,651.81 L253.00,651.78 L254.00,651.74 L255.00,651.70 L256.00,651.66 L257.00,651.63 L258.00,651.59 L259.00,651.55 L260.00,651.52 L261.00,651.48 L262.00,651.44 L263.00,651.41 L264.00,651.37 L265.00,651.34 L266.00,651.30 L267.00,651.26 L268.00,651.23 L269.00,651.19 L270.00,651.16 L271.00,651.12 L272.00,651.09 L273.00,651.06 L274.00,651.02 L275.00,650.99 L276.00,650.95 L277.00,650.92 L278.00,650.89 L279.00,650.85 L280.00,650.82 L281.00,650.79 L282.00,650.75 L283.00,650.72 L284.00,650.69 L285.00,650.65 L286.00,650.62 L287.00,650.59 L288.00,650.56 L289.00,650.52 L290.00,650.49 L291.00,650.46 L292.00,650.43 L293.00,650.40 L294.00,650.37 L295.00,650.34 L296.00,650.30 L297.00,650.27 L298.00,650.24 L299.00,650.21 L300.00,650.18 L301.00,650.15 L302.00,650.12 L303.00,650.09 L304.00,650.06 L305.00,650.03 L306.00,650.00 L307.00,649.97 L308.00,649.94 L309.00,649.91 L310.00,649.88 L311.00,649.85 L312.00,649.83 L313.00,649.80 L314.00,649.77 L315.00,649.74 L316.00,649.71 L317.00,649.68 L318.00,649.65 L319.00,649.63 L320.00,649.60 L321.00,649.57 L322.00,649.54 L323.00,649.52 L324.00,649.49 L325.00,649.46 L326.00,649.43 L327.00,649.41 L328.00,649.38 L329.00,649.35 L330.00,649.33 L331.00,649.30 L332.00,649.27 L333.00,649.25 L334.00,649.22 L335.00,649.20 L336.00,649.17 L337.00,649.14 L338.00,649.12 L339.00,649.09 L340.00,649.07 L341.00,649.04 L342.00,649.02 L343.00,648.99 L344.00,648.97 L345.00,648.94 L346.00,648.92 L347.00,648.89 L348.00,648.87 L349.00,648.84 L350.00,648.82 L351.00,648.79 L352.00,648.77 L353.00,648.75 L354.00,648.72 L355.00,648.70 L356.00,648.67 L357.00,648.65 L358.00,648.63 L359.00,648.60 L360.00,648.58 L361.00,648.56 L362.00,648.53 L363.00,648.51 L364.00,648.49 L365.00,648.47 L366.00,648.44 L367.00,648.42 L368.00,648.40 L369.00,648.38 L370.00,648.35 L371.00,648.33 L372.00,648.31 L373.00,648.29 L374.00,648.27 L375.00,648.24 L376.00,648.22 L377.00,648.20 L378.00,648.18 L379.00,648.16 L380.00,648.14 L381.00,648.12 L382.00,648.09 L383.00,648.07 L384.00,648.05 L385.00,648.03 L386.00,648.01 L387.00,647.99 L388.00,647.97 L389.00,647.95 L390.00,647.93 L391.00,647.91 L392.00,647.89 L393.00,647.87 L394.00,647.85 L395.00,647.83 L396.00,647.81 L397.00,647.79 L398.00,647.77 L399.00,647.75 L400.00,647.73 L401.00,647.71 L402.00,647.69 L403.00,647.67 L404.00,647.65 L405.00,647.64 L406.00,647.62 L407.00,647.60 L408.00,647.58 L409.00,647.56 L410.00,647.54 L411.00,647.52 L412.00,647.51 L413.00,647.49 L414.00,647.47 L415.00,647.45 L416.00,647.43 L417.00,647.41 L418.00,647.40 L419.00,647.38 L420.00,647.36 L421.00,647.34 L422.00,647.33 L423.00,647.31 L424.00,647.29 L425.00,647.27 L426.00,647.26 L427.00,647.24 L428.00,647.22 L429.00,647.21 L430.00,647.19 L431.00,647.17 L432.00,647.15 L433.00,647.14 L434.00,647.12 L435.00,647.10 L436.00,647.09 L437.00,647.07 L438.00,647.06 L439.00,647.04 L440.00,647.02 L441.00,647.01 L442.00,646.99 L443.00,646.97 L444.00,646.96 L445.00,646.94 L446.00,646.93 L447.00,646.91 L448.00,646.90 L449.00,646.88 L450.00,646.86 L451.00,646.85 L452.00,646.83 L453.00,646.82 L454.00,646.80 L455.00,646.79 L456.00,646.77 L457.00,646.76 L458.00,646.74 L459.00,646.73 L460.00,646.71 L461.00,646.70 L462.00,646.68 L463.00,646.67 L464.00,646.66 L465.00,646.64 L466.00,646.63 L467.00,646.61 L468.00,646.60 L469.00,646.58 L470.00,646.57 L471.00,646.56 L472.00,646.54 L473.00,646.53 L474.00,646.51 L475.00,646.50 L476.00,646.49 L477.00,646.47 L478.00,646.46 L479.00,646.44 L480.00,646.43 L481.00,646.42 L482.00,646.40 L483.00,646.39 L484.00,646.38 L485.00,646.36 L486.00,646.35 L487.00,646.34 L488.00,646.33 L489.00,646.31 L490.00,646.30 L491.00,646.29 L492.00,646.27 L493.00,646.26 L494.00,646.25 L495.00,646.24 L496.00,646.22 L497.00,646.21 L498.00,646.20 L499.00,646.19 L500.00,646.17 L501.00,646.16 L502.00,646.15 L503.00,646.14 L504.00,646.12 L505.00,646.11 L506.00,646.10 L507.00,646.09 L508.00,646.08 L509.00,646.06 L510.00,646.05 L511.00,646.04 L512.00,646.03 L513.00,646.02 L514.00,646.01 L515.00,645.99 L516.00,645.98 L517.00,645.97 L518.00,645.96 L519.00,645.95 L520.00,645.94 L521.00,645.93 L522.00,645.92 L523.00,645.90 L524.00,645.89 L525.00,645.88 L526.00,645.87 L527.00,645.86 L528.00,645.85 L529.00,645.84 L530.00,645.83 L531.00,645.82 L532.00,645.81 L533.00,645.80 L534.00,645.79 L535.00,645.77 L536.00,645.76 L537.00,645.75 L538.00,645.74 L539.00,645.73 L540.00,645.72 L541.00,645.71 L542.00,645.70 L543.00,645.69 L544.00,645.68 L545.00,645.67 L546.00,645.66 L547.00,645.65 L548.00,645.64 L549.00,645.63 L550.00,645.62 L551.00,645.61 L552.00,645.60 L553.00,645.59 L554.00,645.58 L555.00,645.57 L556.00,645.56 L557.00,645.55 L558.00,645.54 L559.00,645.54 L560.00,645.53 L561.00,645.52 L562.00,645.51 L563.00,645.50 L564.00,645.49 L565.00,645.48 L566.00,645.47 L567.00,645.46 L568.00,645.45 L569.00,645.44 L570.00,645.43 L571.00,645.43 L572.00,645.42 L573.00,645.41 L574.00,645.40 L575.00,645.39 L576.00,645.38 L577.00,645.37 L578.00,645.36 L579.00,645.36 L580.00,645.35 L581.00,645.34 L582.00,645.33 L583.00,645.32 L584.00,645.31 L585.00,645.30 L586.00,645.30 L587.00,645.29 L588.00,645.28 L589.00,645.27 L590.00,645.26 L591.00,645.25 L592.00,645.25 L593.00,645.24 L594.00,645.23 L595.00,645.22 L596.00,645.21 L597.00,645.21 L598.00,645.20 L599.00,645.19 L600.00,645.18 L601.00,645.17 L602.00,645.17 L603.00,645.16 L604.00,645.15 L605.00,645.14 L606.00,645.14 L607.00,645.13 L608.00,645.12 L609.00,645.11 L610.00,645.11 L611.00,645.10 L612.00,645.09 L613.00,645.08 L614.00,645.08 L615.00,645.07 L616.00,645.06 L617.00,645.05 L618.00,645.05 L619.00,645.04 L620.00,645.03 L621.00,645.03 L622.00,645.02 L623.00,645.01 L624.00,645.00 L625.00,645.00 L626.00,644.99 L627.00,644.98 L628.00,644.98 L629.00,644.97 L630.00,644.96 L631.00,644.96 L632.00,644.95 L633.00,644.94 L634.00,644.94 L635.00,644.93 L636.00,644.92 L637.00,644.92 L638.00,644.91 L639.00,644.90 L640.00,644.90 L641.00,644.89 L642.00,644.88 L643.00,644.88 L644.00,644.87 L645.00,644.86 L646.00,644.86 L647.00,644.85 L648.00,644.84 L649.00,644.84 L650.00,644.83 L651.00,644.83 L652.00,644.82 L653.00,644.81 L654.00,644.81 L655.00,644.80 L656.00,644.79 L657.00,644.79 L658.00,644.78 L659.00,644.78 L660.00,644.77 L661.00,644.76 L662.00,644.76 L663.00,644.75 L664.00,644.75 L665.00,644.74 L666.00,644.74 L667.00,644.73 L668.00,644.72 L669.00,644.72 L670.00,644.71 L671.00,644.71 L672.00,644.70 L673.00,644.70 L674.00,644.69 L675.00,644.68 L676.00,644.68 L677.00,644.67 L678.00,644.67 L679.00,644.66 L680.00,644.66 L681.00,644.65 L682.00,644.65 L683.00,644.64 L684.00,644.63 L685.00,644.63 L686.00,644.62 L687.00,644.62 L688.00,644.61 L689.00,644.61 L690.00,644.60 L691.00,644.60 L692.00,644.59 L693.00,644.59 L694.00,644.58 L695.00,644.58 L696.00,644.57 L697.00,644.57 L698.00,644.56 L699.00,644.56 L700.00,644.55 L701.00,644.55 L702.00,644.54 L703.00,644.54 L704.00,644.53 L705.00,644.53 L706.00,644.52 L707.00,644.52 L708.00,644.51 L709.00,644.51 L710.00,644.50 L711.00,644.50 L712.00,644.49 L713.00,644.49 L714.00,644.48 L715.00,644.48 L716.00,644.48 L717.00,644.47 L718.00,644.47 L719.00,644.46 L720.00,644.46 L721.00,644.45 L722.00,644.45 L723.00,644.44 L724.00,644.44 L725.00,644.43 L726.00,644.43 L727.00,644.43 L728.00,644.42 L729.00,644.42 L730.00,644.41 L731.00,644.41 L732.00,644.40 L733.00,644.40 L734.00,644.39 L735.00,644.39 L736.00,644.39 L737.00,644.38 L738.00,644.38 L739.00,644.37 L740.00,644.37 L741.00,644.37 L742.00,644.36 L743.00,644.36 L744.00,644.35 L745.00,644.35 L746.00,644.34 L747.00,644.34 L748.00,644.34 L749.00,644.33 L750.00,644.33 L751.00,644.32 L752.00,644.32 L753.00,644.32 L754.00,644.31 L755.00,644.31 L756.00,644.31 L757.00,644.30 L758.00,644.30 L759.00,644.29 L760.00,644.29 L761.00,644.29 L762.00,644.28 L763.00,644.28 L764.00,644.27 L765.00,644.27 L766.00,644.27 L767.00,644.26 L768.00,644.26 L769.00,644.26 L770.00,644.25 L771.00,644.25 L772.00,644.25 L773.00,644.24 L774.00,644.24 L775.00,644.23 L776.00,644.23 L777.00,644.23 L778.00,644.22 L779.00,644.22 L780.00,644.22 L781.00,644.21 L782.00,644.21 L783.00,644.21 L784.00,644.20 L785.00,644.20 L786.00,644.20 L787.00,644.19 L788.00,644.19 L789.00,644.19 L790.00,644.18 L791.00,644.18 L792.00,644.18 L793.00,644.17 L794.00,644.17 L795.00,644.17 L796.00,644.16 L797.00,644.16 L798.00,644.16 L799.00,644.15 L800.00,644.15 L801.00,644.15 L802.00,644.14 L803.00,644.14 L804.00,644.14 L805.00,644.14 L806.00,644.13 L807.00,644.13 L808.00,644.13 L809.00,644.12 L810.00,644.12 L811.00,644.12 L812.00,644.11 L813.00,644.11 L814.00,644.11 L815.00,644.10 L816.00,644.10 L817.00,644.10 L818.00,644.10 L819.00,644.09 L820.00,644.09 L821.00,644.09 L822.00,644.08 L823.00,644.08 L824.00,644.08 L825.00,644.08 L826.00,644.07 L827.00,644.07 L828.00,644.07 L829.00,644.06 L830.00,644.06 L831.00,644.06 L832.00,644.06 L833.00,644.05 L834.00,644.05 L835.00,644.05 L836.00,644.05 L837.00,644.04 L838.00,644.04 L839.00,644.04 L840.00,644.03 L841.00,644.03 L842.00,644.03 L843.00,644.03 L844.00,644.02 L845.00,644.02 L846.00,644.02 L847.00,644.02 L848.00,644.01 L849.00,644.01 L850.00,644.01 L851.00,644.01 L852.00,644.00 L853.00,644.00 L854.00,644.00 L855.00,644.00 L856.00,643.99 L857.00,643.99 L858.00,643.99 L859.00,643.99 L860.00,643.98 L861.00,643.98 L862.00,643.98 L863.00,643.98 L864.00,643.97 L865.00,643.97 L866.00,643.97 L867.00,643.97 L868.00,643.97 L869.00,643.96 L870.00,643.96 L871.00,643.96 L872.00,643.96 L873.00,643.95 L874.00,643.95 L875.00,643.95 L876.00,643.95 L877.00,643.94 L878.00,643.94 L879.00,643.94 L880.00,643.94 L881.00,643.94 L882.00,643.93 L883.00,643.93 L884.00,643.93 L885.00,643.93 L886.00,643.93 L887.00,643.92 L888.00,643.92 L889.00,643.92 L890.00,643.92 L891.00,643.91 L892.00,643.91 L893.00,643.91 L894.00,643.91 L895.00,643.91 L896.00,643.90 L897.00,643.90 L898.00,643.90 L899.00,643.90 L900.00,643.90 L901.00,643.89 L902.00,643.89 L903.00,643.89 L904.00,643.89 L905.00,643.89 L906.00,643.88 L907.00,643.88 L908.00,643.88 L909.00,643.88 L910.00,643.88 L911.00,643.87 L912.00,643.87 L913.00,643.87 L914.00,643.87 L915.00,643.87 L916.00,643.86 L917.00,643.86 L918.00,643.86 L919.00,643.86 L920.00,643.86 L921.00,643.86 L922.00,643.85 L923.00,643.85 L924.00,643.85 L925.00,643.85 L926.00,643.85 L927.00,643.84 L928.00,643.84 L929.00,643.84 L930.00,643.84 L931.00,643.84 L932.00,643.84 L933.00,643.83 L934.00,643.83 L935.00,643.83 L936.00,643.83 L937.00,643.83 L938.00,643.83 L939.00,643.82 L940.00,643.82 L941.00,643.82 L942.00,643.82 L943.00,643.82 L944.00,643.82 L945.00,643.81 L946.00,643.81 L947.00,643.81 L948.00,643.81 L949.00,643.81 L950.00,643.81 L951.00,643.80 L952.00,643.80 L953.00,643.80 L954.00,643.80 L955.00,643.80 L956.00,643.80 L957.00,643.79 L958.00,643.79 L959.00,643.79 L960.00,643.79 L961.00,643.79 L962.00,643.79 L963.00,643.79 L964.00,643.78 L965.00,643.78 L966.00,643.78 L967.00,643.78 L968.00,643.78 L969.00,643.78 L970.00,643.77 L971.00,643.77 L972.00,643.77 L973.00,643.77 L974.00,643.77 L975.00,643.77 L976.00,643.77 L977.00,643.76 L978.00,643.76 L979.00,643.76 L980.00,643.76 L981.00,643.76 L982.00,643.76 L983.00,643.76 L984.00,643.75 L985.00,643.75 L986.00,643.75 L987.00,643.75 L988.00,643.75 L989.00,643.75 L990.00,643.75 L991.00,643.75 L992.00,643.74 L993.00,643.74 L994.00,643.74 L995.00,643.74 L996.00,643.74 L997.00,643.74 L998.00,643.74 L999.00,643.73 L1000.00,643.73 L1001.00,643.73 L1002.00,643.73 L1003.00,643.73 L1004.00,643.73 L1005.00,643.73 L1006.00,643.73 L1007.00,643.72 L1008.00,643.72 L1009.00,643.72 L1010.00,643.72 L1011.00,643.72 L1012.00,643.72 L1013.00,643.72 L1014.00,643.72 L1015.00,643.72 L1016.00,643.71"/>
</g>
<text class="tk" transform="translate(105.70,776.5) scale(0.955,1)" text-anchor="middle">0</text>
<text class="tk" transform="translate(257.20,776.5) scale(0.955,1)" text-anchor="middle">1</text>
<text class="tk" transform="translate(408.70,776.5) scale(0.955,1)" text-anchor="middle">2</text>
<text class="tk" transform="translate(560.20,776.5) scale(0.955,1)" text-anchor="middle">3</text>
<text class="tk" transform="translate(711.70,776.5) scale(0.955,1)" text-anchor="middle">4</text>
<text class="tk" transform="translate(863.20,776.5) scale(0.955,1)" text-anchor="middle">5</text>
<text class="tk" transform="translate(1014.70,776.5) scale(0.955,1)" text-anchor="middle">6</text>
<text class="tk" transform="translate(96.8,754.25) scale(0.955,1)" text-anchor="end">0.02</text>
<text class="tk" transform="translate(96.8,632.22) scale(0.955,1)" text-anchor="end">0.04</text>
<text class="tk" transform="translate(96.8,510.18) scale(0.955,1)" text-anchor="end">0.06</text>
<text class="tk" transform="translate(96.8,388.15) scale(0.955,1)" text-anchor="end">0.08</text>
<text class="tk" transform="translate(96.8,266.12) scale(0.955,1)" text-anchor="end">0.1</text>
<text class="tk" transform="translate(96.8,144.08) scale(0.955,1)" text-anchor="end">0.12</text>
<text class="tk" transform="translate(96.8,22.05) scale(0.955,1)" text-anchor="end">0.14</text>
<text class="lb" transform="translate(560.6,823.7) scale(1.008,1.005)" text-anchor="middle">Time (day)</text>
<text class="lb" transform="translate(38.4,378.0) scale(1.035,1) rotate(-90)" text-anchor="middle">Accumulation rate of Fibrinogen (nM/s)</text>
<path class="ll" stroke="#0072BD" d="M429.3,188.30 H504.0"/>
<text class="lg" transform="translate(507.2,196.35) scale(1.012,1.0)">No drug</text>
<path class="ll" stroke="#FF0000" d="M429.3,214.36 H504.0"/>
<text class="lg" transform="translate(507.2,222.41) scale(1.012,1.0)">gp80 bound by a 10 nM drug</text>
<path class="ll" stroke="#FF00FF" d="M429.3,240.42 H504.0"/>
<text class="lg" transform="translate(507.2,248.47) scale(1.012,1.0)">JAK bound by a 10 nM drug</text>
<path class="ll" stroke="#00FFFF" d="M429.3,266.48 H504.0"/>
<text class="lg" transform="translate(507.2,274.53) scale(1.012,1.0)">gp130 bound by a 10 nM drug</text>
<path class="ll" stroke="#000000" d="M429.3,292.54 H504.0"/>
<text class="lg" transform="translate(507.2,300.59) scale(1.012,1.0)">Each of gp80, JAK and gp130 bound by a 10 nM drug</text>
</svg></body></html>
